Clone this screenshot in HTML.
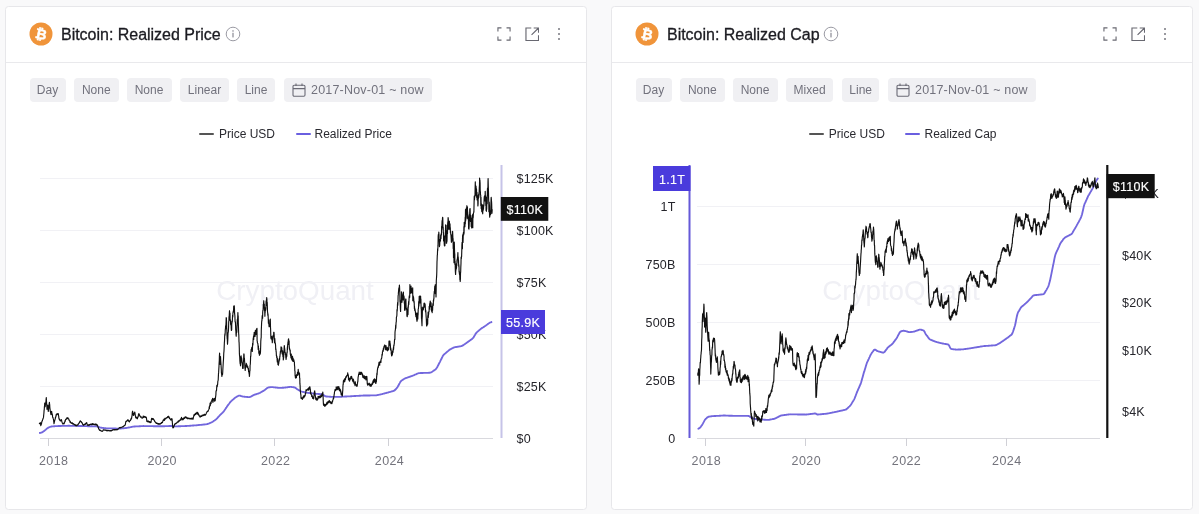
<!DOCTYPE html>
<html><head><meta charset="utf-8"><title>Bitcoin: Realized Price / Realized Cap</title>
<style>
html,body{margin:0;padding:0}
body{width:1199px;height:514px;overflow:hidden;background:#f9f9fa;font-family:"Liberation Sans", Arial, sans-serif;position:relative}
.card{position:absolute;top:6px;width:580px;height:502px;background:#fff;border:1px solid #e7e7ea;border-radius:3.5px;overflow:hidden}
.hdr{position:absolute;left:0;top:0;width:100%;height:55px;border-bottom:1px solid #e9e9ec}
.btc{position:absolute;left:23px;top:14.5px}
.title{position:absolute;left:55px;top:18px;font-size:16px;line-height:20px;color:#1b1b21;white-space:nowrap;-webkit-text-stroke:0.3px #1b1b21;letter-spacing:-0.02px}
.info{position:absolute;left:219px;top:19px}
.ic1{position:absolute;left:491px;top:20px}
.ic2{position:absolute;left:518.5px;top:19.5px}
.ic3{position:absolute;left:551px;top:20px}
.btns{position:absolute;left:0;top:71px;height:24px;width:100%}
.b{position:absolute;top:0;height:23px;padding-top:1px;line-height:23px;background:#f0f0f3;border-radius:4px;font-size:12px;color:#72727d;text-align:center;white-space:nowrap}
.b.date svg{position:absolute;left:8px;top:4.5px}
.b.date span{position:absolute;left:27px;top:1px;font-size:12.5px;letter-spacing:0.2px}
.leg{position:absolute;left:0;top:118px;width:100%;height:18px}
.leg span{position:absolute;top:0;font-size:12px;line-height:18px;color:#2a2a30;white-space:nowrap}
.leg .ln{position:absolute;top:8px;width:15px;height:2px;border-radius:1px}
.chart{position:absolute}
.xl{font-family:"Liberation Sans", Arial, sans-serif;font-size:12.5px;fill:#73737c;letter-spacing:0.4px}
.yl{font-family:"Liberation Sans", Arial, sans-serif;font-size:12.5px;fill:#25252b;letter-spacing:0.2px}
.lb{fill:#fff;stroke:#fff;stroke-width:0.15px;letter-spacing:0.3px}
</style></head><body>

<div class="card" style="left:5px">
  <div class="hdr">
    <svg class="btc" width="24" height="24" viewBox="0 0 24 24"><circle cx="12" cy="12" r="11.5" fill="#f0943a"/><text x="12.2" y="17" text-anchor="middle" font-family='"Liberation Sans", Arial, sans-serif' font-weight="bold" font-size="14" fill="#fff" stroke="#fff" stroke-width="0.45" transform="rotate(12 12 12)">&#x20BF;</text></svg>
    <span class="title">Bitcoin: Realized Price</span>
    <svg class="info" style="left:219px" width="16" height="16" viewBox="0 0 16 16"><circle cx="8" cy="8" r="6.8" fill="none" stroke="#9a9aa3" stroke-width="1"/><rect x="7.3" y="6.8" width="1.4" height="4.6" fill="#9a9aa3"/><rect x="7.3" y="4.2" width="1.4" height="1.5" fill="#9a9aa3"/></svg>
    <svg class="ic1" width="14" height="14" viewBox="0 0 15 15" fill="none" stroke="#686871" stroke-width="1.2"><path d="M1 4.8V1H4.8M10.2 1H14V4.8M14 10.2V14H10.2M4.8 14H1V10.2"/></svg>
    <svg class="ic2" width="14.5" height="14.5" viewBox="0 0 15 15" fill="none" stroke="#686871" stroke-width="1.2"><path d="M6.5 1H1V14H14V8.5M9 1H14V6M14 1L6.8 8.2"/></svg>
    <svg class="ic3" width="4" height="14" viewBox="0 0 4 14" fill="#77777f"><circle cx="2" cy="2" r="1"/><circle cx="2" cy="7" r="1"/><circle cx="2" cy="12" r="1"/></svg>
  </div>
  <div class="btns">
    <span class="b" style="left:23.5px;width:36px">Day</span>
    <span class="b" style="left:68px;width:44.5px">None</span>
    <span class="b" style="left:120.5px;width:45px">None</span>
    <span class="b" style="left:174px;width:49px">Linear</span>
    <span class="b" style="left:231px;width:38px">Line</span>
    <span class="b date" style="left:278px;width:148px"><svg width="14" height="14" viewBox="0 0 14 14" fill="none" stroke="#6a6a75" stroke-width="1.1"><rect x="1" y="2.2" width="12" height="11" rx="1.2"/><path d="M1 5.6H13M4 0.6V3M10 0.6V3"/></svg><span>2017-Nov-01 ~ now</span></span>
  </div>
  <div class="leg"><i class="ln" style="left:193px;background:#555"></i><span style="left:213px">Price USD</span><i class="ln" style="left:290px;background:#6a5fe0"></i><span style="left:308.5px">Realized Price</span></div>
  <svg class="chart" style="left:-6px;top:-7px" width="590" height="514" viewBox="0 0 590 514">
<text x="295" y="300.3" text-anchor="middle" font-family='"Liberation Sans", Arial, sans-serif' font-size="27.8" fill="#f0f0f5" letter-spacing="0">CryptoQuant</text>
<line x1="40" x2="493" y1="178.5" y2="178.5" stroke="#f1f1f5" stroke-width="1"/><line x1="40" x2="493" y1="230.5" y2="230.5" stroke="#f1f1f5" stroke-width="1"/><line x1="40" x2="493" y1="282.5" y2="282.5" stroke="#f1f1f5" stroke-width="1"/><line x1="40" x2="493" y1="334.5" y2="334.5" stroke="#f1f1f5" stroke-width="1"/><line x1="40" x2="493" y1="386.5" y2="386.5" stroke="#f1f1f5" stroke-width="1"/>
<line x1="40" x2="493" y1="438.5" y2="438.5" stroke="#d9d9de" stroke-width="1"/>
<line x1="48.5" x2="48.5" y1="438" y2="446" stroke="#d0d0d6" stroke-width="1"/><line x1="161.5" x2="161.5" y1="438" y2="446" stroke="#d0d0d6" stroke-width="1"/><line x1="274.5" x2="274.5" y1="438" y2="446" stroke="#d0d0d6" stroke-width="1"/><line x1="388.5" x2="388.5" y1="438" y2="446" stroke="#d0d0d6" stroke-width="1"/>
<text x="53.7" y="464.5" text-anchor="middle" class="xl">2018</text><text x="162.2" y="464.5" text-anchor="middle" class="xl">2020</text><text x="275.7" y="464.5" text-anchor="middle" class="xl">2022</text><text x="389.5" y="464.5" text-anchor="middle" class="xl">2024</text>
<line x1="501.5" x2="501.5" y1="165" y2="438" stroke="#c6c3e8" stroke-width="2"/>
<path d="M39.1,433.1 L39.6,433.0 L40.1,433.0 L40.5,432.8 L41.0,432.7 L41.5,432.6 L41.9,432.4 L42.4,432.1 L42.9,431.9 L43.3,431.5 L43.8,431.2 L44.3,430.9 L44.7,430.5 L45.2,430.1 L45.7,429.7 L46.1,429.3 L46.6,428.9 L47.0,428.5 L47.5,428.2 L48.0,427.9 L48.4,427.6 L48.9,427.4 L49.4,427.2 L49.8,427.0 L50.3,426.8 L50.8,426.7 L51.2,426.5 L51.7,426.5 L52.2,426.4 L52.6,426.4 L53.1,426.3 L53.6,426.3 L54.0,426.2 L54.5,426.2 L55.0,426.2 L55.4,426.1 L55.9,426.1 L56.4,426.1 L56.8,426.1 L57.3,426.1 L57.8,426.1 L58.2,426.0 L58.7,426.0 L59.2,426.0 L59.6,426.0 L60.1,426.0 L60.5,426.0 L61.0,426.0 L61.5,425.9 L61.9,425.9 L62.4,425.9 L62.9,425.9 L63.3,425.9 L63.8,425.9 L64.3,425.9 L64.7,425.8 L65.2,425.8 L65.7,425.8 L66.1,425.8 L66.6,425.8 L67.1,425.8 L67.5,425.8 L68.0,425.7 L68.5,425.7 L68.9,425.7 L69.4,425.7 L69.9,425.8 L70.3,425.8 L70.8,425.8 L71.3,425.8 L71.7,425.8 L72.2,425.8 L72.6,425.8 L73.1,425.8 L73.6,425.9 L74.0,425.9 L74.5,425.9 L75.0,425.9 L75.4,425.9 L75.9,425.9 L76.4,425.9 L76.8,425.9 L77.3,425.9 L77.8,426.0 L78.2,426.0 L78.7,426.0 L79.2,426.0 L79.6,426.0 L80.1,426.0 L80.6,426.0 L81.0,426.0 L81.5,426.0 L82.0,426.0 L82.4,426.1 L82.9,426.1 L83.4,426.1 L83.8,426.1 L84.3,426.1 L84.8,426.1 L85.2,426.1 L85.7,426.1 L86.1,426.1 L86.6,426.1 L87.1,426.1 L87.5,426.2 L88.0,426.2 L88.5,426.2 L88.9,426.2 L89.4,426.2 L89.9,426.2 L90.3,426.2 L90.8,426.2 L91.3,426.2 L91.7,426.2 L92.2,426.3 L92.7,426.3 L93.1,426.3 L93.6,426.3 L94.1,426.3 L94.5,426.3 L95.0,426.3 L95.5,426.3 L95.9,426.3 L96.4,426.3 L96.9,426.4 L97.3,426.5 L97.8,426.6 L98.2,426.8 L98.7,427.0 L99.2,427.1 L99.6,427.3 L100.1,427.5 L100.6,427.6 L101.0,427.7 L101.5,427.7 L102.0,427.8 L102.4,427.9 L102.9,427.9 L103.4,428.0 L103.8,428.1 L104.3,428.1 L104.8,428.2 L105.2,428.2 L105.7,428.2 L106.2,428.3 L106.6,428.3 L107.1,428.3 L107.6,428.3 L108.0,428.3 L108.5,428.3 L109.0,428.3 L109.4,428.4 L109.9,428.4 L110.3,428.4 L110.8,428.4 L111.3,428.4 L111.7,428.4 L112.2,428.4 L112.7,428.5 L113.1,428.5 L113.6,428.5 L114.1,428.5 L114.5,428.5 L115.0,428.5 L115.5,428.5 L115.9,428.5 L116.4,428.6 L116.9,428.6 L117.3,428.6 L117.8,428.6 L118.3,428.6 L118.7,428.6 L119.2,428.6 L119.7,428.6 L120.1,428.5 L120.6,428.5 L121.1,428.5 L121.5,428.4 L122.0,428.4 L122.5,428.3 L122.9,428.3 L123.4,428.3 L123.8,428.2 L124.3,428.2 L124.8,428.1 L125.2,428.1 L125.7,428.0 L126.2,428.0 L126.6,427.9 L127.1,427.8 L127.6,427.7 L128.0,427.6 L128.5,427.5 L129.0,427.5 L129.4,427.4 L129.9,427.3 L130.4,427.2 L130.8,427.1 L131.3,427.0 L131.8,426.9 L132.2,426.8 L132.7,426.7 L133.2,426.6 L133.6,426.6 L134.1,426.5 L134.6,426.5 L135.0,426.5 L135.5,426.4 L135.9,426.4 L136.4,426.4 L136.9,426.4 L137.3,426.3 L137.8,426.3 L138.3,426.3 L138.7,426.3 L139.2,426.2 L139.7,426.2 L140.1,426.2 L140.6,426.2 L141.1,426.1 L141.5,426.1 L142.0,426.1 L142.5,426.1 L142.9,426.1 L143.4,426.0 L143.9,426.1 L144.3,426.1 L144.8,426.1 L145.3,426.1 L145.7,426.1 L146.2,426.1 L146.7,426.1 L147.1,426.1 L147.6,426.1 L148.1,426.1 L148.5,426.1 L149.0,426.1 L149.4,426.1 L149.9,426.1 L150.4,426.1 L150.8,426.1 L151.3,426.1 L151.8,426.1 L152.2,426.1 L152.7,426.1 L153.2,426.2 L153.6,426.2 L154.1,426.2 L154.6,426.2 L155.0,426.2 L155.5,426.2 L156.0,426.2 L156.4,426.2 L156.9,426.2 L157.4,426.2 L157.8,426.2 L158.3,426.2 L158.8,426.2 L159.2,426.2 L159.7,426.2 L160.2,426.2 L160.6,426.2 L161.1,426.2 L161.5,426.2 L162.0,426.2 L162.5,426.2 L162.9,426.2 L163.4,426.2 L163.9,426.2 L164.3,426.2 L164.8,426.2 L165.3,426.1 L165.7,426.1 L166.2,426.1 L166.7,426.1 L167.1,426.1 L167.6,426.1 L168.0,426.1 L168.5,426.1 L169.0,426.0 L169.4,426.0 L169.9,426.0 L170.4,426.0 L170.8,426.0 L171.3,426.0 L171.8,426.0 L172.2,426.0 L172.7,426.0 L173.2,426.1 L173.6,426.2 L174.1,426.3 L174.5,426.3 L175.0,426.3 L175.5,426.3 L175.9,426.3 L176.4,426.3 L176.9,426.3 L177.3,426.3 L177.8,426.3 L178.3,426.2 L178.7,426.2 L179.2,426.2 L179.7,426.2 L180.1,426.2 L180.6,426.2 L181.0,426.2 L181.5,426.1 L182.0,426.1 L182.4,426.1 L182.9,426.1 L183.4,426.1 L183.8,426.1 L184.3,426.1 L184.8,426.1 L185.2,426.0 L185.7,426.0 L186.2,426.0 L186.6,426.0 L187.1,425.9 L187.5,425.9 L188.0,425.9 L188.5,425.8 L188.9,425.8 L189.4,425.8 L189.9,425.7 L190.3,425.7 L190.8,425.7 L191.3,425.6 L191.7,425.6 L192.2,425.6 L192.7,425.5 L193.1,425.5 L193.6,425.5 L194.0,425.4 L194.5,425.4 L195.0,425.4 L195.4,425.3 L195.9,425.3 L196.4,425.3 L196.8,425.2 L197.3,425.2 L197.8,425.1 L198.2,425.1 L198.7,425.0 L199.1,425.0 L199.6,424.9 L200.1,424.9 L200.5,424.9 L201.0,424.8 L201.5,424.8 L201.9,424.7 L202.4,424.7 L202.9,424.6 L203.3,424.6 L203.8,424.5 L204.3,424.5 L204.7,424.4 L205.2,424.4 L205.6,424.3 L206.1,424.3 L206.6,424.2 L207.0,424.1 L207.5,424.0 L208.0,423.9 L208.4,423.7 L208.9,423.5 L209.4,423.3 L209.8,423.1 L210.3,422.9 L210.8,422.7 L211.2,422.5 L211.7,422.3 L212.1,422.0 L212.6,421.8 L213.1,421.5 L213.5,421.1 L214.0,420.8 L214.5,420.5 L214.9,420.2 L215.4,419.8 L215.9,419.5 L216.3,419.1 L216.8,418.6 L217.3,418.2 L217.7,417.7 L218.2,417.2 L218.6,416.6 L219.1,416.1 L219.6,415.5 L220.0,415.1 L220.5,414.6 L221.0,414.2 L221.4,413.7 L221.9,413.3 L222.4,412.9 L222.8,412.4 L223.3,411.9 L223.8,411.3 L224.2,410.7 L224.7,410.0 L225.2,409.3 L225.6,408.6 L226.1,407.9 L226.6,407.2 L227.0,406.5 L227.5,405.8 L228.0,405.2 L228.4,404.6 L228.9,404.0 L229.4,403.3 L229.8,402.7 L230.3,402.1 L230.7,401.6 L231.2,401.1 L231.7,400.7 L232.1,400.3 L232.6,399.9 L233.1,399.5 L233.5,399.1 L234.0,398.7 L234.5,398.3 L234.9,397.9 L235.4,397.5 L235.9,397.2 L236.3,396.9 L236.8,396.7 L237.3,396.5 L237.7,396.2 L238.2,396.0 L238.7,395.7 L239.1,395.6 L239.6,395.6 L240.1,395.7 L240.5,395.9 L241.0,396.0 L241.5,396.2 L241.9,396.3 L242.4,396.4 L242.8,396.5 L243.3,396.6 L243.8,396.6 L244.2,396.7 L244.7,396.7 L245.2,396.8 L245.6,396.8 L246.1,396.9 L246.6,396.9 L247.0,397.0 L247.5,397.0 L248.0,397.1 L248.4,397.1 L248.9,397.1 L249.4,397.1 L249.8,397.0 L250.3,396.8 L250.8,396.6 L251.2,396.4 L251.7,396.1 L252.2,395.9 L252.6,395.6 L253.1,395.4 L253.6,395.2 L254.0,394.9 L254.5,394.7 L255.0,394.6 L255.4,394.4 L255.9,394.3 L256.3,394.1 L256.8,394.0 L257.3,393.8 L257.7,393.7 L258.2,393.6 L258.7,393.4 L259.1,393.2 L259.6,393.0 L260.1,392.8 L260.5,392.5 L261.0,392.2 L261.5,392.0 L261.9,391.7 L262.4,391.4 L262.9,391.2 L263.3,390.9 L263.8,390.6 L264.3,390.3 L264.7,390.0 L265.2,389.6 L265.7,389.3 L266.1,388.9 L266.6,388.5 L267.1,388.1 L267.5,387.8 L268.0,387.6 L268.4,387.4 L268.9,387.3 L269.4,387.3 L269.8,387.2 L270.3,387.2 L270.8,387.1 L271.2,387.1 L271.7,387.1 L272.2,387.1 L272.6,387.1 L273.1,387.2 L273.6,387.3 L274.0,387.3 L274.5,387.4 L275.0,387.4 L275.4,387.5 L275.9,387.5 L276.4,387.6 L276.8,387.6 L277.3,387.7 L277.8,387.7 L278.2,387.8 L278.7,387.8 L279.2,387.8 L279.6,387.8 L280.1,387.8 L280.6,387.8 L281.0,387.8 L281.5,387.8 L281.9,387.8 L282.4,387.7 L282.9,387.7 L283.3,387.7 L283.8,387.7 L284.3,387.6 L284.7,387.6 L285.2,387.5 L285.7,387.5 L286.1,387.4 L286.6,387.4 L287.1,387.3 L287.5,387.2 L288.0,387.2 L288.5,387.1 L288.9,387.0 L289.4,387.0 L289.9,386.9 L290.3,386.9 L290.8,386.9 L291.3,386.9 L291.7,387.0 L292.2,387.1 L292.7,387.1 L293.1,387.2 L293.6,387.2 L294.0,387.3 L294.5,387.4 L295.0,387.6 L295.4,387.8 L295.9,388.2 L296.4,388.6 L296.8,388.9 L297.3,389.3 L297.8,389.5 L298.2,389.8 L298.7,390.1 L299.2,390.3 L299.6,390.6 L300.1,390.8 L300.6,391.1 L301.0,391.3 L301.5,391.5 L302.0,391.7 L302.4,391.8 L302.9,391.9 L303.4,392.0 L303.8,392.1 L304.3,392.2 L304.8,392.2 L305.2,392.3 L305.7,392.4 L306.2,392.5 L306.6,392.6 L307.1,392.7 L307.5,392.8 L308.0,392.8 L308.5,392.9 L308.9,393.0 L309.4,393.0 L309.9,393.1 L310.3,393.1 L310.8,393.2 L311.3,393.3 L311.7,393.3 L312.2,393.4 L312.7,393.4 L313.1,393.5 L313.6,393.5 L314.1,393.6 L314.5,393.6 L315.0,393.7 L315.5,393.7 L315.9,393.8 L316.4,393.8 L316.9,393.8 L317.3,393.9 L317.8,393.9 L318.3,394.0 L318.7,394.0 L319.2,394.0 L319.6,394.1 L320.1,394.1 L320.6,394.1 L321.0,394.2 L321.5,394.2 L322.0,394.2 L322.4,394.3 L322.9,394.5 L323.4,394.8 L323.8,395.2 L324.3,395.6 L324.8,395.9 L325.2,396.2 L325.7,396.4 L326.2,396.5 L326.6,396.5 L327.1,396.5 L327.6,396.6 L328.0,396.6 L328.5,396.6 L329.0,396.6 L329.4,396.7 L329.9,396.7 L330.4,396.7 L330.8,396.8 L331.3,396.8 L331.8,396.8 L332.2,396.8 L332.7,396.8 L333.1,396.8 L333.6,396.8 L334.1,396.8 L334.5,396.8 L335.0,396.8 L335.5,396.8 L335.9,396.8 L336.4,396.8 L336.9,396.8 L337.3,396.8 L337.8,396.8 L338.3,396.8 L338.7,396.8 L339.2,396.8 L339.7,396.8 L340.1,396.8 L340.6,396.7 L341.1,396.7 L341.5,396.7 L342.0,396.7 L342.5,396.6 L342.9,396.6 L343.4,396.6 L343.9,396.6 L344.3,396.6 L344.8,396.5 L345.2,396.5 L345.7,396.5 L346.2,396.5 L346.6,396.5 L347.1,396.4 L347.6,396.4 L348.0,396.4 L348.5,396.4 L349.0,396.3 L349.4,396.3 L349.9,396.3 L350.4,396.3 L350.8,396.2 L351.3,396.2 L351.8,396.2 L352.2,396.1 L352.7,396.1 L353.2,396.1 L353.6,396.1 L354.1,396.0 L354.6,396.0 L355.0,396.0 L355.5,396.0 L356.0,395.9 L356.4,395.9 L356.9,395.9 L357.3,395.8 L357.8,395.8 L358.3,395.8 L358.7,395.8 L359.2,395.7 L359.7,395.7 L360.1,395.7 L360.6,395.7 L361.1,395.6 L361.5,395.6 L362.0,395.6 L362.5,395.6 L362.9,395.6 L363.4,395.5 L363.9,395.5 L364.3,395.5 L364.8,395.5 L365.3,395.5 L365.7,395.5 L366.2,395.5 L366.7,395.5 L367.1,395.5 L367.6,395.5 L368.1,395.5 L368.5,395.5 L369.0,395.5 L369.5,395.5 L369.9,395.5 L370.4,395.4 L370.8,395.4 L371.3,395.4 L371.8,395.4 L372.2,395.4 L372.7,395.4 L373.2,395.4 L373.6,395.4 L374.1,395.4 L374.6,395.4 L375.0,395.4 L375.5,395.4 L376.0,395.3 L376.4,395.3 L376.9,395.2 L377.4,395.1 L377.8,395.0 L378.3,394.9 L378.8,394.8 L379.2,394.7 L379.7,394.6 L380.2,394.5 L380.6,394.4 L381.1,394.3 L381.6,394.2 L382.0,394.1 L382.5,394.0 L382.9,393.8 L383.4,393.7 L383.9,393.6 L384.3,393.5 L384.8,393.4 L385.3,393.2 L385.7,393.1 L386.2,393.0 L386.7,392.9 L387.1,392.7 L387.6,392.6 L388.1,392.5 L388.5,392.4 L389.0,392.2 L389.5,392.1 L389.9,392.0 L390.4,391.8 L390.9,391.7 L391.3,391.5 L391.8,391.4 L392.2,391.3 L392.7,391.1 L393.2,391.0 L393.6,390.9 L394.1,390.7 L394.6,390.4 L395.0,390.0 L395.5,389.5 L396.0,389.0 L396.4,388.5 L396.9,387.9 L397.4,387.3 L397.8,386.6 L398.3,385.8 L398.7,385.0 L399.2,384.0 L399.7,383.1 L400.1,382.3 L400.6,381.6 L401.1,381.0 L401.5,380.6 L402.0,380.3 L402.5,380.0 L402.9,379.7 L403.4,379.4 L403.9,379.0 L404.3,378.8 L404.8,378.5 L405.2,378.3 L405.7,378.1 L406.2,378.0 L406.6,377.8 L407.1,377.7 L407.6,377.5 L408.0,377.4 L408.5,377.2 L409.0,377.0 L409.4,376.9 L409.9,376.7 L410.4,376.6 L410.8,376.4 L411.3,376.2 L411.7,376.1 L412.2,375.9 L412.7,375.7 L413.1,375.5 L413.6,375.3 L414.1,375.1 L414.5,374.9 L415.0,374.7 L415.5,374.5 L415.9,374.3 L416.4,374.1 L416.8,373.9 L417.3,373.7 L417.8,373.5 L418.2,373.3 L418.7,373.2 L419.2,373.1 L419.6,373.1 L420.1,373.1 L420.6,373.0 L421.0,373.0 L421.5,373.0 L422.0,373.0 L422.4,373.0 L422.9,373.0 L423.3,372.9 L423.8,372.9 L424.3,372.9 L424.7,372.9 L425.2,372.9 L425.7,372.9 L426.1,372.8 L426.6,372.8 L427.1,372.8 L427.5,372.8 L428.0,372.8 L428.5,372.8 L428.9,372.7 L429.4,372.7 L429.8,372.7 L430.3,372.6 L430.8,372.5 L431.2,372.3 L431.7,372.0 L432.2,371.7 L432.6,371.4 L433.1,371.0 L433.6,370.7 L434.0,370.4 L434.5,370.1 L435.0,369.8 L435.4,369.5 L435.9,369.0 L436.3,368.5 L436.8,367.8 L437.3,367.0 L437.7,366.1 L438.2,365.2 L438.7,364.3 L439.1,363.4 L439.6,362.5 L440.1,361.6 L440.5,360.7 L441.0,359.7 L441.5,358.8 L441.9,357.8 L442.4,356.9 L442.8,356.0 L443.3,355.3 L443.8,354.7 L444.2,354.3 L444.7,353.9 L445.2,353.5 L445.6,353.1 L446.1,352.7 L446.6,352.3 L447.0,351.9 L447.5,351.5 L448.0,351.1 L448.4,350.7 L448.9,350.3 L449.4,349.9 L449.8,349.6 L450.3,349.3 L450.8,349.1 L451.2,348.8 L451.7,348.6 L452.1,348.3 L452.6,348.1 L453.1,347.9 L453.5,347.6 L454.0,347.5 L454.5,347.3 L454.9,347.2 L455.4,347.1 L455.9,347.0 L456.3,347.0 L456.8,346.9 L457.3,346.8 L457.7,346.7 L458.2,346.7 L458.7,346.6 L459.1,346.5 L459.6,346.4 L460.1,346.4 L460.5,346.3 L461.0,346.2 L461.5,346.1 L461.9,345.9 L462.4,345.7 L462.9,345.4 L463.3,345.1 L463.8,344.8 L464.2,344.5 L464.7,344.2 L465.2,343.8 L465.6,343.5 L466.1,343.2 L466.6,342.9 L467.0,342.5 L467.5,342.2 L468.0,341.9 L468.4,341.5 L468.9,341.2 L469.4,340.9 L469.8,340.5 L470.3,340.2 L470.8,339.9 L471.2,339.5 L471.7,339.2 L472.2,338.8 L472.6,338.4 L473.1,337.9 L473.6,337.3 L474.0,336.5 L474.5,335.7 L475.0,334.9 L475.4,334.1 L475.9,333.4 L476.4,332.8 L476.8,332.3 L477.3,331.9 L477.7,331.5 L478.2,331.1 L478.7,330.7 L479.1,330.3 L479.6,329.9 L480.1,329.5 L480.5,329.1 L481.0,328.7 L481.5,328.4 L481.9,328.1 L482.4,327.8 L482.9,327.5 L483.3,327.2 L483.8,326.9 L484.3,326.6 L484.7,326.3 L485.2,326.0 L485.7,325.7 L486.1,325.3 L486.6,325.0 L487.1,324.6 L487.5,324.3 L488.0,323.9 L488.5,323.6 L488.9,323.3 L489.4,323.0 L489.8,322.7 L490.3,322.5 L490.8,322.3 L491.2,322.1 L491.7,322.0 L492.2,321.9" fill="none" stroke="#7267dd" stroke-width="1.85" stroke-linejoin="round"/>
<path d="M39.1,424.0 L39.3,423.8 L39.4,423.4 L39.6,423.4 L39.8,423.2 L39.9,423.2 L40.1,422.8 L40.2,422.5 L40.4,423.1 L40.5,424.1 L40.7,424.7 L40.8,425.6 L41.0,425.1 L41.2,424.5 L41.3,424.0 L41.5,423.9 L41.6,422.7 L41.8,422.1 L41.9,421.5 L42.1,420.9 L42.2,421.1 L42.4,420.7 L42.5,420.1 L42.7,419.6 L42.9,419.0 L43.0,418.7 L43.2,418.1 L43.3,418.1 L43.5,417.4 L43.6,415.9 L43.8,414.3 L43.9,413.2 L44.1,410.4 L44.3,409.1 L44.4,406.8 L44.6,405.6 L44.7,403.1 L44.9,404.8 L45.0,405.8 L45.2,406.8 L45.3,405.7 L45.5,404.1 L45.7,403.0 L45.8,402.1 L46.0,401.1 L46.1,399.4 L46.3,397.6 L46.4,399.5 L46.6,403.3 L46.7,405.0 L46.9,407.0 L47.0,409.3 L47.2,409.2 L47.4,407.7 L47.5,406.2 L47.7,407.1 L47.8,405.1 L48.0,407.5 L48.1,409.5 L48.3,411.4 L48.4,410.6 L48.6,408.8 L48.8,407.9 L48.9,407.4 L49.1,404.8 L49.2,403.5 L49.4,402.4 L49.5,403.6 L49.7,404.9 L49.8,407.1 L50.0,408.7 L50.2,410.1 L50.3,411.5 L50.5,411.5 L50.6,412.8 L50.8,413.5 L50.9,414.5 L51.1,414.7 L51.2,414.0 L51.4,412.8 L51.5,411.4 L51.7,411.5 L51.9,413.7 L52.0,414.2 L52.2,414.1 L52.3,414.3 L52.5,415.3 L52.6,416.9 L52.8,417.7 L52.9,417.3 L53.1,418.2 L53.3,418.9 L53.4,419.1 L53.6,420.0 L53.7,421.2 L53.9,422.6 L54.0,423.6 L54.2,422.9 L54.3,422.2 L54.5,421.2 L54.7,420.7 L54.8,420.1 L55.0,419.4 L55.1,418.9 L55.3,419.0 L55.4,417.5 L55.6,417.1 L55.7,416.6 L55.9,416.9 L56.0,415.8 L56.2,414.6 L56.4,414.3 L56.5,415.0 L56.7,414.3 L56.8,413.8 L57.0,414.7 L57.1,413.5 L57.3,414.0 L57.4,414.2 L57.6,414.0 L57.8,413.9 L57.9,414.1 L58.1,413.6 L58.2,414.4 L58.4,414.1 L58.5,415.5 L58.7,416.1 L58.8,417.6 L59.0,418.7 L59.2,419.2 L59.3,418.9 L59.5,419.0 L59.6,419.8 L59.8,420.4 L59.9,420.3 L60.1,420.5 L60.2,420.8 L60.4,420.9 L60.5,420.3 L60.7,420.8 L60.9,419.8 L61.0,420.4 L61.2,420.0 L61.3,419.5 L61.5,419.9 L61.6,420.4 L61.8,421.0 L61.9,421.7 L62.1,422.3 L62.3,422.8 L62.4,423.2 L62.6,423.9 L62.7,423.9 L62.9,423.7 L63.0,423.7 L63.2,423.8 L63.3,423.6 L63.5,423.6 L63.6,423.2 L63.8,423.6 L64.0,423.8 L64.1,423.6 L64.3,423.3 L64.4,422.9 L64.6,422.2 L64.7,422.1 L64.9,421.5 L65.0,420.6 L65.2,421.4 L65.4,420.5 L65.5,419.7 L65.7,419.5 L65.8,419.3 L66.0,419.2 L66.1,419.3 L66.3,418.8 L66.4,418.8 L66.6,418.9 L66.8,417.8 L66.9,418.4 L67.1,418.5 L67.2,418.2 L67.4,418.1 L67.5,417.9 L67.7,418.7 L67.8,417.6 L68.0,418.1 L68.1,417.9 L68.3,418.9 L68.5,418.8 L68.6,418.8 L68.8,419.1 L68.9,419.2 L69.1,420.4 L69.2,420.3 L69.4,420.5 L69.5,420.5 L69.7,420.9 L69.9,420.9 L70.0,422.1 L70.2,421.3 L70.3,422.2 L70.5,421.8 L70.6,422.6 L70.8,422.4 L70.9,422.3 L71.1,422.9 L71.3,423.0 L71.4,423.2 L71.6,423.1 L71.7,423.3 L71.9,423.4 L72.0,423.0 L72.2,423.2 L72.3,423.6 L72.5,422.9 L72.6,423.9 L72.8,423.4 L73.0,423.8 L73.1,423.7 L73.3,423.6 L73.4,423.9 L73.6,423.9 L73.7,423.9 L73.9,424.5 L74.0,424.6 L74.2,424.3 L74.4,424.7 L74.5,424.8 L74.7,425.0 L74.8,424.5 L75.0,424.8 L75.1,424.7 L75.3,425.3 L75.4,425.2 L75.6,425.6 L75.8,425.3 L75.9,425.2 L76.1,425.8 L76.2,425.7 L76.4,425.3 L76.5,425.3 L76.7,425.5 L76.8,425.8 L77.0,425.0 L77.1,425.2 L77.3,425.3 L77.5,425.0 L77.6,424.9 L77.8,424.5 L77.9,425.0 L78.1,424.7 L78.2,424.2 L78.4,423.8 L78.5,423.6 L78.7,423.7 L78.9,423.6 L79.0,422.9 L79.2,422.8 L79.3,422.5 L79.5,421.9 L79.6,422.0 L79.8,422.3 L79.9,421.5 L80.1,421.6 L80.3,420.7 L80.4,420.7 L80.6,421.0 L80.7,421.5 L80.9,421.5 L81.0,421.4 L81.2,421.8 L81.3,421.7 L81.5,422.2 L81.6,422.5 L81.8,422.4 L82.0,422.6 L82.1,422.8 L82.3,423.6 L82.4,423.5 L82.6,424.4 L82.7,424.4 L82.9,424.9 L83.0,424.4 L83.2,425.1 L83.4,425.1 L83.5,425.3 L83.7,425.2 L83.8,425.1 L84.0,425.1 L84.1,424.8 L84.3,424.3 L84.4,424.6 L84.6,424.4 L84.8,424.1 L84.9,424.3 L85.1,424.4 L85.2,424.1 L85.4,423.6 L85.5,424.2 L85.7,423.8 L85.8,423.3 L86.0,423.2 L86.1,423.2 L86.3,422.9 L86.5,422.9 L86.6,423.1 L86.8,422.7 L86.9,423.7 L87.1,424.1 L87.2,424.3 L87.4,425.1 L87.5,425.2 L87.7,425.2 L87.9,425.2 L88.0,425.3 L88.2,425.0 L88.3,425.2 L88.5,424.8 L88.6,425.3 L88.8,424.7 L88.9,424.9 L89.1,425.1 L89.2,424.5 L89.4,424.7 L89.6,425.1 L89.7,424.8 L89.9,424.5 L90.0,424.6 L90.2,424.3 L90.3,424.2 L90.5,424.2 L90.6,424.3 L90.8,424.0 L91.0,424.3 L91.1,424.1 L91.3,424.2 L91.4,424.7 L91.6,424.1 L91.7,424.0 L91.9,424.3 L92.0,424.4 L92.2,423.8 L92.4,424.7 L92.5,424.2 L92.7,423.7 L92.8,424.5 L93.0,424.1 L93.1,424.3 L93.3,423.8 L93.4,424.3 L93.6,424.2 L93.7,424.1 L93.9,424.6 L94.1,424.4 L94.2,424.3 L94.4,424.2 L94.5,424.4 L94.7,424.5 L94.8,424.7 L95.0,424.5 L95.1,424.3 L95.3,424.5 L95.5,424.7 L95.6,424.7 L95.8,423.9 L95.9,424.3 L96.1,424.4 L96.2,425.2 L96.4,424.5 L96.5,424.5 L96.7,424.3 L96.9,424.6 L97.0,424.7 L97.2,424.7 L97.3,425.0 L97.5,425.8 L97.6,425.6 L97.8,426.1 L97.9,426.6 L98.1,427.3 L98.2,427.3 L98.4,427.7 L98.6,428.7 L98.7,428.8 L98.9,429.2 L99.0,429.3 L99.2,429.6 L99.3,429.9 L99.5,430.1 L99.6,430.3 L99.8,429.9 L100.0,430.2 L100.1,430.5 L100.3,430.6 L100.4,430.3 L100.6,430.4 L100.7,430.4 L100.9,430.6 L101.0,430.9 L101.2,430.8 L101.4,431.1 L101.5,431.0 L101.7,431.0 L101.8,431.0 L102.0,431.2 L102.1,431.2 L102.3,431.2 L102.4,431.2 L102.6,431.3 L102.7,431.0 L102.9,430.7 L103.1,430.4 L103.2,429.9 L103.4,429.7 L103.5,429.7 L103.7,429.9 L103.8,429.9 L104.0,429.9 L104.1,429.9 L104.3,429.9 L104.5,430.0 L104.6,430.0 L104.8,430.1 L104.9,430.3 L105.1,430.2 L105.2,430.2 L105.4,430.1 L105.5,430.2 L105.7,430.3 L105.9,430.2 L106.0,430.5 L106.2,430.6 L106.3,430.4 L106.5,430.5 L106.6,430.4 L106.8,430.3 L106.9,430.6 L107.1,430.8 L107.2,430.6 L107.4,430.3 L107.6,430.6 L107.7,430.7 L107.9,430.7 L108.0,430.5 L108.2,430.5 L108.3,430.6 L108.5,430.4 L108.6,430.6 L108.8,430.7 L109.0,430.6 L109.1,430.5 L109.3,430.6 L109.4,430.6 L109.6,430.9 L109.7,430.8 L109.9,430.7 L110.0,430.9 L110.2,430.7 L110.3,430.8 L110.5,430.8 L110.7,430.9 L110.8,430.6 L111.0,430.9 L111.1,430.7 L111.3,430.8 L111.4,430.7 L111.6,430.3 L111.7,430.6 L111.9,430.3 L112.1,430.2 L112.2,430.2 L112.4,430.3 L112.5,430.0 L112.7,429.9 L112.8,429.7 L113.0,429.8 L113.1,429.7 L113.3,429.8 L113.5,429.6 L113.6,429.7 L113.8,429.7 L113.9,429.7 L114.1,429.8 L114.2,429.6 L114.4,429.9 L114.5,429.8 L114.7,429.7 L114.8,429.9 L115.0,429.7 L115.2,430.0 L115.3,429.8 L115.5,429.6 L115.6,429.6 L115.8,429.7 L115.9,429.7 L116.1,429.8 L116.2,429.4 L116.4,429.5 L116.6,429.5 L116.7,429.7 L116.9,429.6 L117.0,429.8 L117.2,429.5 L117.3,429.6 L117.5,429.3 L117.6,429.6 L117.8,429.2 L118.0,429.0 L118.1,429.2 L118.3,429.1 L118.4,428.8 L118.6,428.6 L118.7,428.6 L118.9,428.2 L119.0,428.1 L119.2,427.8 L119.3,427.8 L119.5,427.6 L119.7,427.5 L119.8,427.5 L120.0,427.9 L120.1,427.7 L120.3,427.7 L120.4,427.7 L120.6,427.5 L120.7,427.4 L120.9,427.3 L121.1,427.6 L121.2,427.5 L121.4,427.2 L121.5,427.2 L121.7,427.2 L121.8,427.1 L122.0,427.2 L122.1,427.0 L122.3,426.7 L122.5,426.7 L122.6,426.7 L122.8,426.7 L122.9,426.5 L123.1,426.9 L123.2,426.5 L123.4,426.2 L123.5,426.4 L123.7,425.9 L123.8,425.8 L124.0,426.1 L124.2,425.7 L124.3,425.6 L124.5,425.4 L124.6,425.2 L124.8,425.2 L124.9,425.3 L125.1,425.0 L125.2,424.9 L125.4,424.1 L125.6,423.0 L125.7,422.2 L125.9,421.4 L126.0,421.5 L126.2,421.6 L126.3,421.2 L126.5,421.3 L126.6,421.3 L126.8,420.9 L127.0,421.0 L127.1,420.7 L127.3,420.5 L127.4,420.7 L127.6,419.8 L127.7,420.5 L127.9,420.0 L128.0,420.2 L128.2,419.9 L128.3,420.1 L128.5,421.1 L128.7,421.0 L128.8,421.0 L129.0,421.2 L129.1,421.0 L129.3,422.0 L129.4,421.7 L129.6,421.2 L129.7,421.1 L129.9,420.8 L130.1,420.7 L130.2,420.6 L130.4,420.2 L130.5,420.4 L130.7,419.5 L130.8,419.9 L131.0,419.2 L131.1,418.4 L131.3,418.9 L131.5,418.5 L131.6,418.2 L131.8,416.8 L131.9,416.1 L132.1,415.3 L132.2,413.7 L132.4,412.2 L132.5,411.2 L132.7,411.6 L132.8,413.0 L133.0,412.7 L133.2,413.5 L133.3,414.9 L133.5,415.5 L133.6,415.0 L133.8,414.9 L133.9,413.7 L134.1,414.1 L134.2,413.1 L134.4,413.1 L134.6,412.8 L134.7,412.0 L134.9,412.6 L135.0,413.3 L135.2,414.7 L135.3,415.8 L135.5,416.0 L135.6,417.1 L135.8,417.8 L135.9,417.8 L136.1,417.4 L136.3,417.5 L136.4,418.2 L136.6,417.2 L136.7,418.1 L136.9,417.8 L137.0,418.3 L137.2,418.2 L137.3,418.8 L137.5,418.2 L137.7,417.1 L137.8,416.8 L138.0,417.2 L138.1,416.8 L138.3,416.3 L138.4,414.7 L138.6,414.8 L138.7,414.1 L138.9,413.5 L139.1,414.0 L139.2,414.2 L139.4,415.0 L139.5,414.9 L139.7,415.8 L139.8,415.6 L140.0,415.8 L140.1,416.1 L140.3,416.6 L140.4,416.8 L140.6,417.1 L140.8,416.9 L140.9,417.2 L141.1,416.6 L141.2,417.0 L141.4,417.5 L141.5,417.7 L141.7,417.9 L141.8,418.1 L142.0,418.0 L142.2,417.9 L142.3,418.0 L142.5,418.2 L142.6,417.8 L142.8,417.1 L142.9,417.8 L143.1,417.3 L143.2,416.1 L143.4,417.5 L143.6,416.8 L143.7,416.4 L143.9,416.4 L144.0,416.4 L144.2,416.4 L144.3,416.7 L144.5,416.5 L144.6,416.7 L144.8,416.5 L144.9,417.5 L145.1,417.2 L145.3,417.0 L145.4,417.4 L145.6,417.5 L145.7,416.9 L145.9,417.5 L146.0,417.1 L146.2,417.1 L146.3,417.4 L146.5,418.6 L146.7,419.8 L146.8,421.2 L147.0,421.2 L147.1,421.6 L147.3,421.3 L147.4,421.2 L147.6,421.5 L147.7,421.5 L147.9,421.3 L148.1,421.8 L148.2,421.4 L148.4,421.1 L148.5,421.8 L148.7,421.7 L148.8,421.8 L149.0,421.4 L149.1,421.8 L149.3,421.7 L149.4,422.1 L149.6,422.0 L149.8,422.0 L149.9,422.6 L150.1,421.7 L150.2,421.9 L150.4,422.7 L150.5,422.1 L150.7,422.3 L150.8,422.2 L151.0,422.4 L151.2,421.1 L151.3,420.4 L151.5,418.7 L151.6,418.8 L151.8,418.3 L151.9,419.0 L152.1,419.2 L152.2,419.4 L152.4,419.4 L152.6,418.9 L152.7,418.6 L152.9,419.0 L153.0,419.1 L153.2,418.5 L153.3,419.5 L153.5,419.6 L153.6,419.3 L153.8,419.5 L153.9,419.6 L154.1,420.3 L154.3,420.7 L154.4,420.5 L154.6,420.8 L154.7,421.5 L154.9,421.4 L155.0,421.7 L155.2,421.7 L155.3,422.1 L155.5,422.3 L155.7,422.6 L155.8,422.5 L156.0,422.6 L156.1,423.2 L156.3,423.4 L156.4,423.1 L156.6,423.5 L156.7,423.4 L156.9,423.2 L157.1,423.1 L157.2,423.6 L157.4,423.5 L157.5,423.5 L157.7,424.0 L157.8,423.6 L158.0,423.8 L158.1,423.6 L158.3,424.0 L158.4,424.3 L158.6,423.8 L158.8,423.8 L158.9,424.0 L159.1,423.7 L159.2,424.0 L159.4,424.1 L159.5,423.9 L159.7,424.1 L159.8,424.4 L160.0,424.1 L160.2,423.8 L160.3,423.5 L160.5,423.7 L160.6,423.5 L160.8,423.7 L160.9,423.4 L161.1,422.9 L161.2,423.4 L161.4,422.6 L161.5,423.3 L161.7,423.0 L161.9,422.8 L162.0,422.5 L162.2,422.1 L162.3,422.5 L162.5,422.5 L162.6,421.5 L162.8,421.2 L162.9,421.0 L163.1,420.2 L163.3,420.7 L163.4,420.4 L163.6,419.9 L163.7,419.8 L163.9,419.7 L164.0,419.1 L164.2,419.9 L164.3,419.5 L164.5,420.4 L164.6,418.9 L164.8,419.2 L165.0,418.7 L165.1,418.2 L165.3,418.8 L165.4,418.8 L165.6,418.8 L165.7,418.8 L165.9,418.6 L166.0,418.1 L166.2,418.2 L166.3,418.1 L166.5,418.0 L166.7,417.6 L166.8,417.6 L167.0,417.7 L167.1,417.3 L167.3,417.5 L167.4,417.7 L167.6,416.7 L167.7,417.0 L167.9,417.4 L168.0,416.5 L168.2,416.7 L168.4,417.2 L168.5,416.6 L168.7,416.2 L168.8,416.9 L169.0,417.0 L169.1,417.4 L169.3,417.8 L169.4,418.5 L169.6,417.9 L169.8,418.4 L169.9,418.7 L170.1,418.7 L170.2,419.0 L170.4,419.1 L170.5,419.6 L170.7,419.7 L170.8,419.6 L171.0,420.2 L171.1,419.6 L171.3,419.2 L171.5,418.9 L171.6,419.4 L171.8,419.3 L171.9,418.6 L172.1,419.1 L172.2,421.4 L172.4,423.0 L172.5,424.6 L172.7,426.5 L172.8,427.8 L173.0,427.5 L173.2,427.8 L173.3,427.6 L173.5,427.6 L173.6,427.2 L173.8,426.8 L173.9,426.2 L174.1,425.5 L174.2,425.7 L174.4,425.2 L174.5,424.5 L174.7,424.1 L174.9,424.2 L175.0,423.8 L175.2,423.7 L175.3,423.8 L175.5,423.5 L175.6,423.9 L175.8,423.3 L175.9,423.7 L176.1,423.4 L176.2,423.3 L176.4,423.2 L176.6,422.8 L176.7,422.9 L176.9,422.8 L177.0,422.8 L177.2,422.4 L177.3,422.0 L177.5,422.3 L177.6,422.1 L177.8,421.7 L178.0,421.9 L178.1,422.1 L178.3,421.0 L178.4,420.9 L178.6,421.9 L178.7,421.3 L178.9,421.0 L179.0,420.7 L179.2,420.7 L179.3,420.8 L179.5,420.9 L179.7,420.4 L179.8,420.0 L180.0,420.5 L180.1,420.3 L180.3,419.9 L180.4,419.7 L180.6,420.0 L180.7,419.2 L180.9,418.9 L181.0,418.3 L181.2,418.3 L181.4,418.1 L181.5,417.4 L181.7,418.4 L181.8,419.1 L182.0,419.9 L182.1,420.0 L182.3,419.7 L182.4,419.3 L182.6,419.0 L182.7,418.7 L182.9,419.4 L183.1,419.2 L183.2,419.7 L183.4,418.1 L183.5,418.9 L183.7,418.5 L183.8,418.2 L184.0,418.7 L184.1,417.9 L184.3,418.0 L184.5,418.4 L184.6,417.6 L184.8,417.1 L184.9,418.1 L185.1,417.0 L185.2,417.1 L185.4,417.0 L185.5,416.9 L185.7,417.0 L185.8,416.8 L186.0,417.5 L186.2,417.2 L186.3,417.8 L186.5,417.5 L186.6,418.1 L186.8,418.0 L186.9,417.4 L187.1,418.0 L187.2,418.3 L187.4,418.7 L187.5,418.4 L187.7,418.7 L187.9,418.4 L188.0,418.2 L188.2,418.4 L188.3,418.3 L188.5,418.5 L188.6,418.1 L188.8,418.7 L188.9,418.7 L189.1,418.3 L189.2,418.6 L189.4,418.7 L189.6,418.8 L189.7,418.7 L189.9,418.4 L190.0,418.5 L190.2,419.0 L190.3,418.5 L190.5,418.6 L190.6,419.0 L190.8,418.4 L190.9,418.8 L191.1,418.8 L191.3,418.5 L191.4,418.3 L191.6,419.0 L191.7,418.6 L191.9,419.1 L192.0,418.0 L192.2,419.0 L192.3,418.4 L192.5,419.0 L192.7,418.6 L192.8,418.1 L193.0,418.9 L193.1,419.2 L193.3,418.0 L193.4,417.2 L193.6,416.8 L193.7,416.5 L193.9,414.9 L194.0,415.1 L194.2,415.0 L194.4,415.5 L194.5,414.4 L194.7,415.3 L194.8,414.0 L195.0,414.6 L195.1,414.2 L195.3,413.6 L195.4,413.9 L195.6,414.4 L195.7,414.4 L195.9,413.1 L196.1,413.2 L196.2,413.7 L196.4,412.9 L196.5,412.9 L196.7,412.7 L196.8,413.8 L197.0,412.8 L197.1,412.2 L197.3,412.4 L197.4,412.4 L197.6,412.6 L197.8,414.3 L197.9,413.4 L198.1,413.6 L198.2,413.0 L198.4,414.7 L198.5,414.7 L198.7,414.8 L198.8,414.7 L199.0,415.5 L199.1,415.1 L199.3,416.1 L199.5,416.0 L199.6,416.5 L199.8,416.5 L199.9,416.8 L200.1,416.9 L200.2,417.2 L200.4,416.1 L200.5,416.3 L200.7,416.6 L200.9,416.2 L201.0,415.8 L201.2,416.5 L201.3,416.1 L201.5,415.7 L201.6,415.7 L201.8,415.9 L201.9,416.5 L202.1,415.1 L202.2,415.4 L202.4,415.4 L202.6,415.3 L202.7,415.4 L202.9,415.1 L203.0,415.4 L203.2,415.6 L203.3,415.4 L203.5,415.3 L203.6,415.3 L203.8,415.4 L203.9,414.7 L204.1,415.4 L204.3,414.6 L204.4,415.2 L204.6,414.7 L204.7,414.2 L204.9,414.6 L205.0,415.0 L205.2,414.6 L205.3,414.5 L205.5,415.2 L205.6,414.5 L205.8,414.5 L206.0,413.9 L206.1,413.9 L206.3,413.4 L206.4,412.8 L206.6,412.5 L206.7,412.2 L206.9,412.0 L207.0,412.1 L207.2,411.7 L207.3,411.4 L207.5,411.3 L207.7,411.1 L207.8,410.9 L208.0,411.4 L208.1,410.5 L208.3,410.2 L208.4,410.4 L208.6,409.7 L208.7,409.3 L208.9,409.3 L209.1,408.7 L209.2,406.8 L209.4,408.4 L209.5,406.4 L209.7,405.6 L209.8,406.2 L210.0,404.3 L210.1,403.0 L210.3,405.6 L210.4,403.7 L210.6,403.1 L210.8,403.3 L210.9,402.4 L211.1,403.7 L211.2,401.4 L211.4,401.3 L211.5,401.2 L211.7,400.8 L211.8,400.7 L212.0,399.5 L212.1,399.9 L212.3,399.0 L212.5,399.0 L212.6,398.3 L212.8,401.8 L212.9,402.4 L213.1,401.8 L213.2,400.9 L213.4,399.9 L213.5,400.2 L213.7,398.9 L213.8,399.1 L214.0,398.8 L214.2,399.3 L214.3,398.7 L214.5,398.4 L214.6,400.5 L214.8,401.3 L214.9,399.7 L215.1,399.4 L215.2,400.6 L215.4,398.4 L215.6,396.9 L215.7,396.3 L215.9,394.7 L216.0,391.7 L216.2,390.6 L216.3,390.6 L216.5,390.7 L216.6,389.3 L216.8,385.6 L216.9,385.4 L217.1,386.9 L217.3,386.2 L217.4,384.6 L217.6,384.8 L217.7,383.3 L217.9,380.7 L218.0,380.6 L218.2,380.2 L218.3,377.7 L218.5,373.6 L218.6,372.9 L218.8,369.4 L219.0,366.1 L219.1,363.3 L219.3,360.5 L219.4,356.2 L219.6,353.1 L219.7,357.9 L219.9,363.0 L220.0,364.2 L220.2,364.5 L220.4,360.8 L220.5,356.5 L220.7,360.2 L220.8,361.9 L221.0,364.4 L221.1,366.3 L221.3,369.2 L221.4,372.6 L221.6,373.9 L221.7,374.8 L221.9,376.5 L222.1,374.5 L222.2,374.0 L222.4,374.1 L222.5,374.8 L222.7,372.7 L222.8,370.4 L223.0,366.7 L223.1,365.3 L223.3,361.8 L223.5,359.3 L223.6,357.0 L223.8,352.5 L223.9,352.3 L224.1,348.9 L224.2,346.5 L224.4,341.9 L224.5,341.6 L224.7,336.0 L224.9,333.9 L225.0,335.2 L225.2,332.5 L225.3,329.5 L225.5,328.4 L225.6,325.8 L225.8,328.6 L225.9,325.5 L226.1,321.5 L226.2,317.5 L226.4,318.4 L226.6,322.3 L226.7,328.0 L226.9,330.9 L227.0,335.1 L227.2,338.9 L227.3,338.4 L227.5,344.2 L227.6,343.0 L227.8,339.6 L228.0,333.6 L228.1,332.9 L228.3,331.9 L228.4,331.1 L228.6,326.7 L228.7,321.6 L228.9,320.9 L229.0,316.8 L229.2,316.3 L229.4,312.6 L229.5,310.7 L229.7,312.9 L229.8,313.3 L230.0,313.2 L230.1,320.6 L230.3,319.5 L230.4,320.5 L230.6,323.7 L230.7,324.8 L230.9,324.3 L231.1,323.6 L231.2,327.8 L231.4,330.5 L231.5,328.1 L231.7,329.7 L231.8,321.2 L232.0,323.0 L232.1,321.3 L232.3,321.5 L232.5,317.4 L232.6,315.3 L232.8,316.7 L232.9,313.5 L233.1,311.8 L233.2,311.9 L233.4,310.5 L233.5,312.1 L233.7,306.2 L233.8,310.0 L234.0,311.6 L234.2,307.2 L234.3,305.9 L234.5,310.4 L234.6,313.7 L234.8,315.0 L234.9,316.3 L235.1,321.8 L235.2,322.2 L235.4,321.7 L235.6,325.6 L235.7,329.5 L235.9,331.3 L236.0,334.1 L236.2,336.1 L236.3,334.2 L236.5,330.7 L236.6,330.2 L236.8,332.3 L237.0,325.8 L237.1,325.3 L237.3,320.0 L237.4,319.0 L237.6,319.6 L237.7,317.4 L237.9,312.5 L238.0,318.5 L238.2,315.7 L238.3,323.0 L238.5,328.2 L238.7,334.5 L238.8,334.6 L239.0,342.0 L239.1,342.4 L239.3,347.9 L239.4,353.4 L239.6,356.4 L239.7,356.9 L239.9,361.0 L240.1,363.3 L240.2,363.9 L240.4,364.2 L240.5,365.8 L240.7,361.0 L240.8,356.9 L241.0,356.3 L241.1,355.8 L241.3,358.1 L241.5,359.0 L241.6,357.8 L241.8,359.3 L241.9,362.6 L242.1,362.5 L242.2,363.7 L242.4,364.9 L242.5,366.5 L242.7,368.4 L242.8,368.3 L243.0,368.5 L243.2,368.1 L243.3,362.4 L243.5,360.8 L243.6,360.6 L243.8,354.5 L243.9,353.8 L244.1,354.8 L244.2,360.8 L244.4,358.0 L244.6,361.5 L244.7,362.0 L244.9,368.1 L245.0,367.9 L245.2,370.4 L245.3,368.9 L245.5,368.2 L245.6,367.2 L245.8,365.2 L246.0,367.2 L246.1,365.9 L246.3,363.3 L246.4,365.5 L246.6,365.0 L246.7,365.5 L246.9,364.7 L247.0,365.3 L247.2,366.0 L247.3,367.3 L247.5,367.5 L247.7,366.3 L247.8,366.9 L248.0,368.2 L248.1,369.1 L248.3,369.2 L248.4,368.2 L248.6,371.6 L248.7,371.1 L248.9,371.4 L249.1,373.8 L249.2,373.5 L249.4,376.4 L249.5,376.0 L249.7,372.5 L249.8,371.0 L250.0,370.5 L250.1,365.2 L250.3,364.4 L250.5,360.4 L250.6,356.2 L250.8,356.4 L250.9,353.1 L251.1,350.2 L251.2,349.4 L251.4,350.0 L251.5,348.7 L251.7,349.6 L251.8,347.4 L252.0,348.0 L252.2,347.3 L252.3,351.4 L252.5,346.9 L252.6,343.4 L252.8,343.6 L252.9,344.9 L253.1,340.1 L253.2,338.6 L253.4,337.4 L253.6,336.0 L253.7,339.4 L253.9,334.5 L254.0,337.1 L254.2,332.3 L254.3,336.4 L254.5,334.6 L254.6,336.0 L254.8,335.0 L255.0,336.5 L255.1,332.2 L255.3,332.0 L255.4,330.4 L255.6,331.2 L255.7,333.3 L255.9,334.7 L256.0,332.5 L256.2,332.0 L256.3,331.8 L256.5,328.8 L256.7,328.8 L256.8,329.4 L257.0,328.4 L257.1,340.7 L257.3,341.3 L257.4,342.8 L257.6,343.2 L257.7,343.3 L257.9,343.9 L258.1,347.4 L258.2,349.5 L258.4,345.9 L258.5,348.8 L258.7,348.2 L258.8,353.2 L259.0,352.1 L259.1,352.5 L259.3,353.3 L259.4,355.3 L259.6,353.9 L259.8,352.0 L259.9,351.4 L260.1,350.6 L260.2,354.1 L260.4,352.7 L260.5,351.6 L260.7,345.3 L260.8,341.1 L261.0,338.6 L261.2,337.4 L261.3,329.8 L261.5,325.7 L261.6,323.0 L261.8,320.5 L261.9,321.2 L262.1,318.1 L262.2,315.7 L262.4,317.0 L262.6,318.2 L262.7,312.2 L262.9,310.4 L263.0,309.9 L263.2,308.1 L263.3,304.3 L263.5,305.8 L263.6,302.8 L263.8,300.7 L263.9,303.8 L264.1,304.1 L264.3,304.1 L264.4,310.4 L264.6,307.6 L264.7,310.9 L264.9,316.3 L265.0,313.2 L265.2,312.1 L265.3,308.0 L265.5,310.8 L265.7,309.1 L265.8,309.6 L266.0,304.7 L266.1,301.0 L266.3,301.3 L266.4,299.9 L266.6,299.7 L266.7,297.6 L266.9,299.6 L267.1,305.6 L267.2,302.2 L267.4,307.8 L267.5,311.5 L267.7,312.9 L267.8,315.2 L268.0,313.7 L268.1,315.4 L268.3,319.6 L268.4,323.2 L268.6,319.5 L268.8,320.4 L268.9,324.2 L269.1,326.7 L269.2,326.1 L269.4,326.7 L269.5,326.3 L269.7,324.2 L269.8,324.1 L270.0,325.9 L270.2,320.0 L270.3,319.0 L270.5,327.8 L270.6,328.7 L270.8,335.7 L270.9,338.3 L271.1,338.0 L271.2,338.9 L271.4,338.9 L271.6,336.4 L271.7,337.7 L271.9,338.7 L272.0,339.8 L272.2,340.9 L272.3,342.6 L272.5,340.1 L272.6,339.3 L272.8,339.2 L272.9,335.8 L273.1,337.1 L273.3,336.2 L273.4,335.9 L273.6,336.8 L273.7,332.3 L273.9,332.5 L274.0,332.4 L274.2,335.6 L274.3,338.8 L274.5,342.8 L274.7,339.1 L274.8,338.5 L275.0,341.7 L275.1,342.7 L275.3,343.2 L275.4,343.8 L275.6,345.8 L275.7,349.6 L275.9,348.7 L276.1,351.7 L276.2,351.5 L276.4,355.8 L276.5,355.1 L276.7,357.5 L276.8,356.6 L277.0,356.6 L277.1,359.7 L277.3,361.9 L277.4,358.3 L277.6,360.5 L277.8,359.9 L277.9,364.4 L278.1,362.2 L278.2,361.7 L278.4,365.2 L278.5,361.8 L278.7,363.8 L278.8,362.3 L279.0,362.0 L279.2,359.6 L279.3,358.6 L279.5,359.0 L279.6,360.0 L279.8,356.3 L279.9,357.0 L280.1,354.5 L280.2,354.1 L280.4,351.2 L280.6,350.9 L280.7,352.2 L280.9,350.1 L281.0,346.9 L281.2,349.4 L281.3,347.5 L281.5,347.7 L281.6,347.3 L281.8,348.1 L281.9,350.0 L282.1,353.5 L282.3,354.1 L282.4,352.7 L282.6,353.3 L282.7,350.9 L282.9,356.6 L283.0,354.5 L283.2,355.8 L283.3,359.9 L283.5,358.3 L283.7,357.1 L283.8,353.2 L284.0,351.7 L284.1,348.6 L284.3,345.6 L284.4,346.1 L284.6,349.3 L284.7,348.6 L284.9,351.4 L285.0,352.4 L285.2,352.0 L285.4,354.7 L285.5,354.6 L285.7,353.9 L285.8,357.2 L286.0,358.5 L286.1,359.4 L286.3,357.2 L286.4,357.5 L286.6,354.3 L286.8,356.4 L286.9,352.5 L287.1,352.9 L287.2,352.1 L287.4,346.9 L287.5,349.6 L287.7,344.2 L287.8,344.6 L288.0,341.9 L288.2,344.4 L288.3,339.5 L288.5,340.0 L288.6,338.8 L288.8,342.7 L288.9,343.9 L289.1,340.9 L289.2,345.7 L289.4,347.8 L289.5,349.2 L289.7,348.7 L289.9,350.0 L290.0,351.3 L290.2,350.1 L290.3,354.2 L290.5,354.1 L290.6,355.8 L290.8,354.0 L290.9,357.6 L291.1,355.0 L291.3,354.1 L291.4,358.7 L291.6,358.5 L291.7,358.7 L291.9,359.9 L292.0,357.0 L292.2,360.3 L292.3,357.3 L292.5,356.2 L292.7,360.6 L292.8,359.0 L293.0,361.4 L293.1,358.0 L293.3,360.2 L293.4,359.7 L293.6,359.6 L293.7,360.0 L293.9,359.9 L294.0,361.5 L294.2,361.6 L294.4,362.1 L294.5,365.2 L294.7,366.8 L294.8,370.6 L295.0,371.4 L295.1,375.7 L295.3,376.2 L295.4,377.7 L295.6,375.4 L295.8,377.0 L295.9,378.1 L296.1,376.2 L296.2,377.2 L296.4,377.6 L296.5,376.4 L296.7,374.5 L296.8,374.6 L297.0,374.8 L297.2,375.4 L297.3,375.2 L297.5,372.3 L297.6,373.2 L297.8,374.2 L297.9,375.1 L298.1,374.0 L298.2,369.3 L298.4,371.9 L298.5,373.3 L298.7,372.4 L298.9,372.2 L299.0,372.9 L299.2,373.2 L299.3,374.6 L299.5,373.3 L299.6,377.8 L299.8,378.2 L299.9,383.7 L300.1,385.1 L300.3,390.0 L300.4,391.2 L300.6,393.0 L300.7,394.1 L300.9,395.0 L301.0,397.9 L301.2,398.5 L301.3,398.0 L301.5,398.0 L301.7,398.7 L301.8,397.8 L302.0,398.6 L302.1,398.4 L302.3,397.8 L302.4,399.5 L302.6,397.7 L302.7,398.2 L302.9,398.4 L303.0,397.6 L303.2,396.7 L303.4,397.4 L303.5,396.1 L303.7,397.7 L303.8,397.7 L304.0,395.6 L304.1,396.3 L304.3,395.8 L304.4,397.0 L304.6,395.7 L304.8,396.0 L304.9,395.6 L305.1,396.0 L305.2,395.1 L305.4,393.4 L305.5,393.9 L305.7,393.3 L305.8,392.8 L306.0,389.7 L306.2,389.7 L306.3,390.3 L306.5,390.4 L306.6,390.3 L306.8,389.8 L306.9,390.4 L307.1,389.5 L307.2,389.7 L307.4,389.5 L307.5,389.8 L307.7,388.9 L307.9,388.8 L308.0,389.1 L308.2,388.5 L308.3,388.3 L308.5,388.1 L308.6,390.1 L308.8,388.7 L308.9,388.8 L309.1,387.4 L309.3,389.3 L309.4,388.5 L309.6,388.0 L309.7,387.9 L309.9,386.7 L310.0,387.5 L310.2,389.0 L310.3,389.0 L310.5,392.1 L310.6,393.4 L310.8,392.1 L311.0,394.1 L311.1,394.1 L311.3,394.3 L311.4,394.9 L311.6,394.9 L311.7,396.4 L311.9,395.2 L312.0,396.5 L312.2,395.7 L312.4,396.7 L312.5,398.3 L312.7,398.2 L312.8,396.8 L313.0,397.9 L313.1,398.4 L313.3,398.2 L313.4,398.9 L313.6,398.9 L313.8,398.1 L313.9,396.5 L314.1,395.2 L314.2,392.9 L314.4,392.7 L314.5,391.4 L314.7,390.9 L314.8,392.0 L315.0,393.0 L315.1,394.4 L315.3,396.0 L315.5,396.9 L315.6,397.9 L315.8,399.2 L315.9,399.5 L316.1,399.5 L316.2,399.8 L316.4,398.1 L316.5,398.8 L316.7,399.3 L316.9,400.2 L317.0,398.9 L317.2,399.0 L317.3,399.4 L317.5,399.3 L317.6,400.0 L317.8,398.0 L317.9,398.3 L318.1,396.4 L318.3,398.1 L318.4,398.1 L318.6,396.9 L318.7,397.7 L318.9,397.6 L319.0,397.9 L319.2,397.9 L319.3,396.4 L319.5,396.6 L319.6,396.0 L319.8,397.3 L320.0,397.0 L320.1,397.5 L320.3,396.1 L320.4,397.7 L320.6,396.2 L320.7,395.7 L320.9,395.4 L321.0,397.0 L321.2,396.2 L321.4,395.2 L321.5,396.3 L321.7,396.1 L321.8,396.3 L322.0,394.2 L322.1,393.6 L322.3,395.1 L322.4,395.0 L322.6,394.4 L322.8,392.0 L322.9,393.7 L323.1,396.1 L323.2,400.1 L323.4,403.5 L323.5,404.9 L323.7,405.3 L323.8,404.3 L324.0,403.9 L324.1,405.1 L324.3,405.4 L324.5,405.3 L324.6,406.1 L324.8,404.6 L324.9,405.7 L325.1,404.5 L325.2,406.1 L325.4,405.1 L325.5,405.7 L325.7,404.6 L325.9,405.1 L326.0,404.0 L326.2,404.3 L326.3,404.8 L326.5,403.6 L326.6,403.3 L326.8,404.7 L326.9,402.3 L327.1,402.9 L327.3,402.6 L327.4,403.9 L327.6,403.1 L327.7,402.7 L327.9,401.6 L328.0,403.0 L328.2,402.5 L328.3,403.0 L328.5,401.7 L328.6,401.1 L328.8,402.2 L329.0,401.0 L329.1,401.5 L329.3,401.0 L329.4,400.5 L329.6,401.2 L329.7,402.0 L329.9,402.6 L330.0,402.7 L330.2,402.6 L330.4,402.3 L330.5,402.6 L330.7,401.7 L330.8,402.7 L331.0,403.6 L331.1,402.2 L331.3,402.8 L331.4,403.5 L331.6,403.1 L331.8,403.2 L331.9,403.6 L332.1,402.7 L332.2,401.2 L332.4,401.9 L332.5,401.9 L332.7,400.6 L332.8,400.2 L333.0,399.6 L333.1,399.2 L333.3,398.3 L333.5,398.9 L333.6,398.6 L333.8,396.5 L333.9,397.0 L334.1,394.9 L334.2,394.3 L334.4,393.3 L334.5,391.8 L334.7,391.6 L334.9,390.6 L335.0,389.5 L335.2,389.6 L335.3,390.0 L335.5,390.5 L335.6,390.5 L335.8,390.2 L335.9,389.8 L336.1,389.5 L336.2,386.8 L336.4,388.6 L336.6,388.4 L336.7,389.6 L336.9,389.3 L337.0,388.9 L337.2,388.3 L337.3,389.2 L337.5,386.8 L337.6,388.5 L337.8,386.9 L338.0,389.7 L338.1,387.6 L338.3,387.2 L338.4,387.1 L338.6,386.6 L338.7,386.7 L338.9,386.8 L339.0,387.1 L339.2,389.3 L339.4,388.8 L339.5,390.6 L339.7,388.5 L339.8,389.3 L340.0,390.1 L340.1,391.0 L340.3,391.3 L340.4,389.7 L340.6,390.2 L340.7,392.1 L340.9,391.4 L341.1,394.1 L341.2,394.7 L341.4,394.0 L341.5,394.7 L341.7,394.9 L341.8,394.7 L342.0,393.0 L342.1,396.1 L342.3,396.0 L342.5,394.1 L342.6,391.9 L342.8,390.1 L342.9,387.2 L343.1,384.2 L343.2,384.6 L343.4,381.0 L343.5,380.6 L343.7,380.8 L343.9,380.0 L344.0,381.6 L344.2,381.6 L344.3,381.9 L344.5,378.9 L344.6,379.0 L344.8,378.9 L344.9,381.1 L345.1,378.9 L345.2,379.1 L345.4,379.5 L345.6,378.8 L345.7,376.9 L345.9,376.8 L346.0,377.2 L346.2,376.4 L346.3,377.3 L346.5,376.4 L346.6,376.2 L346.8,375.4 L347.0,375.8 L347.1,375.6 L347.3,375.4 L347.4,375.7 L347.6,374.8 L347.7,372.9 L347.9,375.4 L348.0,376.0 L348.2,374.6 L348.4,376.1 L348.5,379.7 L348.7,378.0 L348.8,378.4 L349.0,377.9 L349.1,379.0 L349.3,380.8 L349.4,379.7 L349.6,381.2 L349.7,380.6 L349.9,379.1 L350.1,378.4 L350.2,379.6 L350.4,378.6 L350.5,378.2 L350.7,377.4 L350.8,376.7 L351.0,376.6 L351.1,377.3 L351.3,378.6 L351.5,376.3 L351.6,376.3 L351.8,378.4 L351.9,377.5 L352.1,378.5 L352.2,378.6 L352.4,379.1 L352.5,380.6 L352.7,379.6 L352.9,379.5 L353.0,381.6 L353.2,379.1 L353.3,379.3 L353.5,379.9 L353.6,380.1 L353.8,381.6 L353.9,382.9 L354.1,382.9 L354.2,383.6 L354.4,383.9 L354.6,383.2 L354.7,383.5 L354.9,383.0 L355.0,385.6 L355.2,381.7 L355.3,381.9 L355.5,384.2 L355.6,383.7 L355.8,384.1 L356.0,384.4 L356.1,385.0 L356.3,385.0 L356.4,385.8 L356.6,385.1 L356.7,385.4 L356.9,385.2 L357.0,386.4 L357.2,385.8 L357.3,384.6 L357.5,383.4 L357.7,381.6 L357.8,381.9 L358.0,379.2 L358.1,377.3 L358.3,376.3 L358.4,375.9 L358.6,374.1 L358.7,374.6 L358.9,374.2 L359.1,373.1 L359.2,372.1 L359.4,373.9 L359.5,374.3 L359.7,373.2 L359.8,373.3 L360.0,374.4 L360.1,374.1 L360.3,373.3 L360.5,372.4 L360.6,374.4 L360.8,374.1 L360.9,372.3 L361.1,374.2 L361.2,372.6 L361.4,372.3 L361.5,372.7 L361.7,372.5 L361.8,374.0 L362.0,373.4 L362.2,374.2 L362.3,373.9 L362.5,375.6 L362.6,374.0 L362.8,377.3 L362.9,376.2 L363.1,376.4 L363.2,375.8 L363.4,377.3 L363.6,377.9 L363.7,376.8 L363.9,378.0 L364.0,376.7 L364.2,375.7 L364.3,377.9 L364.5,377.1 L364.6,378.6 L364.8,376.7 L365.0,376.5 L365.1,377.7 L365.3,379.0 L365.4,377.4 L365.6,376.7 L365.7,376.8 L365.9,377.2 L366.0,379.9 L366.2,378.8 L366.3,376.7 L366.5,379.4 L366.7,377.1 L366.8,376.3 L367.0,378.3 L367.1,380.4 L367.3,383.9 L367.4,383.0 L367.6,384.4 L367.7,385.2 L367.9,384.3 L368.1,384.5 L368.2,384.4 L368.4,383.8 L368.5,384.6 L368.7,384.4 L368.8,384.2 L369.0,384.7 L369.1,383.1 L369.3,384.4 L369.5,384.8 L369.6,385.2 L369.8,385.6 L369.9,383.9 L370.1,385.0 L370.2,386.2 L370.4,385.8 L370.5,385.5 L370.7,385.8 L370.8,384.5 L371.0,385.6 L371.2,386.3 L371.3,384.6 L371.5,384.6 L371.6,385.5 L371.8,384.1 L371.9,384.0 L372.1,383.1 L372.2,383.7 L372.4,382.8 L372.6,384.3 L372.7,383.5 L372.9,381.4 L373.0,380.9 L373.2,381.6 L373.3,381.8 L373.5,379.9 L373.6,382.7 L373.8,381.1 L374.0,379.4 L374.1,379.8 L374.3,379.2 L374.4,381.0 L374.6,381.9 L374.7,378.8 L374.9,380.2 L375.0,381.3 L375.2,380.5 L375.3,379.8 L375.5,383.3 L375.7,379.9 L375.8,380.4 L376.0,383.2 L376.1,380.6 L376.3,381.4 L376.4,381.8 L376.6,377.4 L376.7,376.7 L376.9,373.2 L377.1,374.7 L377.2,372.5 L377.4,369.6 L377.5,369.9 L377.7,367.5 L377.8,368.0 L378.0,367.2 L378.1,366.5 L378.3,367.4 L378.5,365.1 L378.6,364.7 L378.8,364.9 L378.9,362.5 L379.1,364.7 L379.2,362.2 L379.4,364.2 L379.5,362.2 L379.7,365.2 L379.8,362.2 L380.0,362.3 L380.2,361.7 L380.3,361.9 L380.5,361.6 L380.6,360.9 L380.8,361.0 L380.9,362.5 L381.1,359.2 L381.2,359.4 L381.4,358.7 L381.6,358.1 L381.7,358.2 L381.9,356.3 L382.0,354.4 L382.2,355.2 L382.3,354.9 L382.5,351.6 L382.6,351.5 L382.8,351.0 L382.9,350.0 L383.1,351.5 L383.3,350.5 L383.4,348.0 L383.6,349.8 L383.7,348.5 L383.9,347.1 L384.0,346.4 L384.2,346.3 L384.3,346.8 L384.5,345.0 L384.7,347.0 L384.8,345.7 L385.0,345.3 L385.1,346.1 L385.3,346.2 L385.4,349.2 L385.6,349.6 L385.7,348.7 L385.9,347.1 L386.1,345.7 L386.2,350.0 L386.4,347.8 L386.5,349.7 L386.7,349.7 L386.8,349.2 L387.0,347.8 L387.1,348.7 L387.3,347.4 L387.4,350.8 L387.6,348.1 L387.8,348.2 L387.9,349.6 L388.1,349.2 L388.2,350.0 L388.4,350.0 L388.5,349.9 L388.7,348.0 L388.8,347.5 L389.0,341.0 L389.2,345.5 L389.3,341.2 L389.5,342.6 L389.6,341.5 L389.8,341.1 L389.9,341.2 L390.1,344.9 L390.2,343.5 L390.4,345.7 L390.5,349.8 L390.7,347.8 L390.9,349.2 L391.0,350.5 L391.2,350.0 L391.3,354.1 L391.5,354.0 L391.6,355.8 L391.8,354.1 L391.9,355.8 L392.1,352.1 L392.2,355.2 L392.4,354.3 L392.6,351.0 L392.7,352.7 L392.9,350.5 L393.0,352.1 L393.2,348.8 L393.3,349.9 L393.5,347.0 L393.6,349.1 L393.8,345.3 L394.0,345.7 L394.1,344.4 L394.3,343.8 L394.4,341.8 L394.6,339.3 L394.7,339.5 L394.9,339.4 L395.0,332.6 L395.2,330.3 L395.3,330.5 L395.5,328.2 L395.7,325.0 L395.8,328.1 L396.0,324.3 L396.1,322.4 L396.3,321.8 L396.4,317.4 L396.6,316.7 L396.7,316.5 L396.9,315.2 L397.0,309.7 L397.2,311.2 L397.4,308.0 L397.5,304.3 L397.7,302.3 L397.8,305.2 L398.0,301.0 L398.1,295.9 L398.3,294.9 L398.4,292.9 L398.6,290.7 L398.7,289.6 L398.9,287.9 L399.1,290.3 L399.2,288.8 L399.4,285.1 L399.5,286.0 L399.7,291.1 L399.8,291.5 L400.0,301.7 L400.1,300.2 L400.3,305.8 L400.4,309.0 L400.6,311.5 L400.8,303.1 L400.9,302.7 L401.1,301.4 L401.2,302.0 L401.4,298.6 L401.5,291.8 L401.7,293.4 L401.8,295.8 L402.0,302.3 L402.2,296.4 L402.3,297.5 L402.5,295.3 L402.6,296.2 L402.8,297.7 L402.9,297.9 L403.1,293.6 L403.2,299.9 L403.4,292.0 L403.5,298.3 L403.7,299.9 L403.9,295.7 L404.0,296.6 L404.2,298.2 L404.3,303.2 L404.5,301.5 L404.6,309.8 L404.8,310.2 L404.9,310.5 L405.1,305.8 L405.2,306.6 L405.4,306.7 L405.6,300.2 L405.7,299.1 L405.9,299.0 L406.0,303.2 L406.2,309.2 L406.3,308.0 L406.5,308.3 L406.6,309.4 L406.8,309.0 L406.9,315.4 L407.1,316.7 L407.3,316.4 L407.4,314.2 L407.6,310.2 L407.7,313.5 L407.9,307.2 L408.0,314.6 L408.2,305.5 L408.3,307.4 L408.5,303.5 L408.6,301.5 L408.8,304.4 L409.0,300.4 L409.1,298.1 L409.3,295.8 L409.4,297.9 L409.6,296.6 L409.7,297.3 L409.9,284.6 L410.0,289.5 L410.2,290.0 L410.4,290.1 L410.5,293.3 L410.7,287.3 L410.8,291.0 L411.0,286.1 L411.1,287.6 L411.3,289.7 L411.4,288.0 L411.6,292.7 L411.7,290.7 L411.9,291.4 L412.1,293.2 L412.2,290.0 L412.4,290.4 L412.5,290.1 L412.7,287.8 L412.8,300.7 L413.0,295.5 L413.1,297.4 L413.3,297.5 L413.4,296.6 L413.6,297.9 L413.8,300.0 L413.9,302.3 L414.1,301.3 L414.2,302.7 L414.4,308.8 L414.5,306.5 L414.7,310.0 L414.8,310.7 L415.0,308.9 L415.1,310.3 L415.3,311.2 L415.5,312.6 L415.6,315.1 L415.8,314.4 L415.9,316.6 L416.1,314.6 L416.2,314.6 L416.4,313.0 L416.5,314.8 L416.7,319.7 L416.8,319.7 L417.0,321.3 L417.2,320.1 L417.3,318.1 L417.5,313.2 L417.6,314.4 L417.8,319.0 L417.9,315.7 L418.1,314.4 L418.2,309.0 L418.4,308.7 L418.6,306.5 L418.7,301.6 L418.9,306.0 L419.0,304.5 L419.2,296.3 L419.3,298.6 L419.5,299.6 L419.6,296.1 L419.8,301.3 L419.9,300.5 L420.1,303.0 L420.3,297.4 L420.4,297.9 L420.6,296.0 L420.7,299.0 L420.9,299.1 L421.0,304.8 L421.2,308.9 L421.3,307.0 L421.5,318.6 L421.6,318.3 L421.8,322.2 L422.0,325.7 L422.1,319.3 L422.3,316.1 L422.4,309.7 L422.6,308.3 L422.7,307.2 L422.9,309.0 L423.0,309.4 L423.2,308.5 L423.3,309.9 L423.5,307.9 L423.7,307.8 L423.8,306.4 L424.0,303.5 L424.1,303.2 L424.3,306.9 L424.4,304.2 L424.6,304.6 L424.7,303.2 L424.9,304.5 L425.1,304.3 L425.2,305.6 L425.4,309.2 L425.5,311.7 L425.7,310.0 L425.8,311.0 L426.0,314.2 L426.1,316.4 L426.3,318.6 L426.4,321.7 L426.6,326.0 L426.8,322.9 L426.9,325.9 L427.1,324.4 L427.2,324.8 L427.4,324.5 L427.5,319.0 L427.7,324.0 L427.8,315.7 L428.0,316.9 L428.1,312.1 L428.3,317.4 L428.5,314.8 L428.6,314.6 L428.8,312.0 L428.9,311.6 L429.1,311.6 L429.2,306.3 L429.4,309.2 L429.5,307.4 L429.7,303.7 L429.8,304.9 L430.0,303.4 L430.2,301.1 L430.3,301.2 L430.5,303.8 L430.6,306.7 L430.8,305.0 L430.9,306.1 L431.1,302.7 L431.2,309.8 L431.4,306.1 L431.5,310.9 L431.7,310.8 L431.9,311.6 L432.0,311.1 L432.2,312.6 L432.3,309.5 L432.5,306.2 L432.6,310.2 L432.8,304.6 L432.9,304.0 L433.1,303.1 L433.3,305.4 L433.4,300.2 L433.6,301.2 L433.7,298.8 L433.9,298.9 L434.0,295.2 L434.2,292.7 L434.3,291.3 L434.5,293.1 L434.6,288.7 L434.8,286.0 L435.0,290.6 L435.1,286.8 L435.3,284.7 L435.4,293.6 L435.6,290.6 L435.7,292.2 L435.9,291.7 L436.0,297.0 L436.2,288.4 L436.3,280.8 L436.5,278.0 L436.7,274.8 L436.8,271.9 L437.0,261.7 L437.1,260.3 L437.3,255.0 L437.4,255.0 L437.6,248.9 L437.7,250.8 L437.9,247.5 L438.0,245.4 L438.2,236.0 L438.4,234.2 L438.5,237.4 L438.7,239.9 L438.8,232.1 L439.0,234.9 L439.1,239.3 L439.3,241.9 L439.4,246.6 L439.6,243.7 L439.7,245.4 L439.9,240.1 L440.1,239.3 L440.2,240.2 L440.4,241.1 L440.5,240.2 L440.7,235.0 L440.8,236.2 L441.0,238.5 L441.1,233.8 L441.3,234.3 L441.5,235.0 L441.6,226.4 L441.8,227.1 L441.9,225.3 L442.1,220.6 L442.2,227.6 L442.4,220.8 L442.5,217.9 L442.7,217.3 L442.8,218.4 L443.0,229.4 L443.2,227.0 L443.3,232.7 L443.5,232.6 L443.6,241.0 L443.8,237.8 L443.9,240.4 L444.1,235.7 L444.2,243.5 L444.4,245.5 L444.5,245.9 L444.7,245.4 L444.9,245.8 L445.0,240.0 L445.2,243.4 L445.3,234.5 L445.5,229.8 L445.6,224.8 L445.8,225.4 L445.9,229.0 L446.1,225.2 L446.3,234.7 L446.4,235.2 L446.6,243.3 L446.7,241.8 L446.9,241.4 L447.0,241.3 L447.2,230.6 L447.3,231.0 L447.5,233.6 L447.6,224.9 L447.8,222.0 L448.0,221.5 L448.1,217.5 L448.3,218.8 L448.4,221.4 L448.6,223.7 L448.7,229.3 L448.9,224.8 L449.0,225.8 L449.2,221.5 L449.4,221.2 L449.5,227.4 L449.7,229.3 L449.8,227.6 L450.0,223.9 L450.1,227.3 L450.3,227.8 L450.4,232.7 L450.6,231.1 L450.8,234.7 L450.9,233.9 L451.1,237.3 L451.2,238.7 L451.4,242.3 L451.5,237.3 L451.7,235.1 L451.8,241.4 L452.0,238.2 L452.1,235.0 L452.3,239.2 L452.5,240.2 L452.6,231.3 L452.8,235.5 L452.9,238.3 L453.1,238.6 L453.2,248.6 L453.4,244.0 L453.5,257.6 L453.7,257.6 L453.9,257.2 L454.0,262.7 L454.2,248.5 L454.3,242.1 L454.5,249.4 L454.6,252.8 L454.8,254.3 L454.9,264.6 L455.1,261.2 L455.2,265.4 L455.4,272.0 L455.6,274.5 L455.7,271.8 L455.9,269.8 L456.0,269.9 L456.2,268.0 L456.3,263.8 L456.5,268.2 L456.6,265.0 L456.8,265.7 L457.0,259.8 L457.1,262.7 L457.3,258.7 L457.4,258.4 L457.6,257.2 L457.7,256.0 L457.9,252.5 L458.0,259.5 L458.2,256.7 L458.4,260.1 L458.5,260.3 L458.7,266.2 L458.8,264.6 L459.0,266.7 L459.1,272.0 L459.3,271.1 L459.4,273.7 L459.6,275.0 L459.7,272.9 L459.9,279.7 L460.1,279.3 L460.2,281.4 L460.4,279.3 L460.5,273.5 L460.7,271.6 L460.8,267.4 L461.0,263.3 L461.1,257.3 L461.3,258.9 L461.5,255.9 L461.6,256.8 L461.8,250.2 L461.9,245.0 L462.1,242.3 L462.2,243.7 L462.4,248.7 L462.5,238.4 L462.7,234.9 L462.9,236.1 L463.0,242.4 L463.2,237.3 L463.3,233.1 L463.5,232.4 L463.6,235.2 L463.8,234.2 L463.9,226.6 L464.1,233.2 L464.2,222.3 L464.4,225.9 L464.6,223.6 L464.7,223.3 L464.9,226.8 L465.0,223.0 L465.2,217.2 L465.3,223.7 L465.5,209.6 L465.6,221.0 L465.8,219.1 L466.0,213.3 L466.1,210.4 L466.3,208.1 L466.4,211.0 L466.6,209.1 L466.7,207.9 L466.9,205.7 L467.0,209.4 L467.2,218.3 L467.4,206.8 L467.5,211.0 L467.7,212.9 L467.8,217.3 L468.0,215.6 L468.1,218.1 L468.3,219.8 L468.4,217.1 L468.6,228.5 L468.7,223.1 L468.9,229.1 L469.1,226.9 L469.2,224.5 L469.4,214.4 L469.5,220.1 L469.7,212.9 L469.8,208.8 L470.0,212.6 L470.1,208.6 L470.3,217.3 L470.5,221.4 L470.6,215.1 L470.8,219.8 L470.9,221.3 L471.1,217.9 L471.2,226.4 L471.4,226.1 L471.5,225.9 L471.7,227.9 L471.9,225.4 L472.0,227.6 L472.2,221.1 L472.3,215.6 L472.5,224.0 L472.6,214.7 L472.8,227.7 L472.9,214.2 L473.1,218.1 L473.2,217.3 L473.4,213.4 L473.6,212.9 L473.7,211.9 L473.9,212.1 L474.0,206.6 L474.2,197.8 L474.3,196.1 L474.5,199.6 L474.6,198.0 L474.8,196.4 L475.0,196.0 L475.1,188.8 L475.3,181.8 L475.4,187.0 L475.6,189.7 L475.7,192.5 L475.9,195.1 L476.0,186.1 L476.2,188.7 L476.4,196.1 L476.5,188.7 L476.7,197.6 L476.8,193.6 L477.0,192.4 L477.1,200.0 L477.3,199.2 L477.4,196.9 L477.6,198.5 L477.7,197.5 L477.9,205.9 L478.1,204.0 L478.2,195.9 L478.4,194.8 L478.5,198.1 L478.7,194.2 L478.8,197.1 L479.0,192.6 L479.1,195.2 L479.3,187.5 L479.5,185.0 L479.6,178.0 L479.8,181.5 L479.9,180.0 L480.1,183.0 L480.2,190.2 L480.4,192.0 L480.5,194.8 L480.7,194.9 L480.8,205.5 L481.0,197.3 L481.2,208.5 L481.3,206.8 L481.5,206.9 L481.6,209.2 L481.8,211.7 L481.9,204.2 L482.1,211.4 L482.2,205.8 L482.4,208.0 L482.6,212.9 L482.7,213.8 L482.9,209.5 L483.0,205.1 L483.2,210.2 L483.3,207.7 L483.5,209.1 L483.6,205.8 L483.8,206.3 L484.0,203.7 L484.1,199.1 L484.3,196.5 L484.4,200.4 L484.6,199.1 L484.7,195.5 L484.9,198.9 L485.0,200.9 L485.2,191.3 L485.3,194.6 L485.5,200.7 L485.7,195.9 L485.8,205.6 L486.0,197.2 L486.1,210.6 L486.3,205.8 L486.4,211.3 L486.6,202.8 L486.7,209.3 L486.9,197.0 L487.1,203.1 L487.2,203.8 L487.4,191.1 L487.5,188.2 L487.7,188.8 L487.8,195.1 L488.0,182.0 L488.1,178.6 L488.3,186.2 L488.5,192.6 L488.6,198.2 L488.8,203.0 L488.9,211.7 L489.1,209.0 L489.2,202.0 L489.4,205.0 L489.5,214.0 L489.7,217.2 L489.8,216.5 L490.0,214.0 L490.2,210.5 L490.3,210.7 L490.5,212.3 L490.6,214.6 L490.8,207.6 L490.9,205.6 L491.1,198.5 L491.2,197.3 L491.4,199.8 L491.6,202.4 L491.7,204.3 L491.9,213.4 L492.0,212.7 L492.2,209.2" fill="none" stroke="#111" stroke-width="1.15" stroke-linejoin="round"/>
<text x="516.5" y="182.5" class="yl">$125K</text><text x="516.5" y="234.5" class="yl">$100K</text><text x="516.5" y="286.5" class="yl">$75K</text><text x="516.5" y="338.5" class="yl">$50K</text><text x="516.5" y="390.5" class="yl">$25K</text><text x="516.5" y="442.5" class="yl">$0</text>
<rect x="501" y="310" width="44" height="24" fill="#4a3bdc"/>
<text x="506" y="327" class="yl lb">55.9K</text>
<rect x="500.8" y="197" width="47.5" height="23.8" fill="#111"/>
<text x="506.5" y="213.7" class="yl lb">$110K</text>
</svg>
</div>

<div class="card" style="left:611px">
  <div class="hdr">
    <svg class="btc" width="24" height="24" viewBox="0 0 24 24"><circle cx="12" cy="12" r="11.5" fill="#f0943a"/><text x="12.2" y="17" text-anchor="middle" font-family='"Liberation Sans", Arial, sans-serif' font-weight="bold" font-size="14" fill="#fff" stroke="#fff" stroke-width="0.45" transform="rotate(12 12 12)">&#x20BF;</text></svg>
    <span class="title">Bitcoin: Realized Cap</span>
    <svg class="info" style="left:211px" width="16" height="16" viewBox="0 0 16 16"><circle cx="8" cy="8" r="6.8" fill="none" stroke="#9a9aa3" stroke-width="1"/><rect x="7.3" y="6.8" width="1.4" height="4.6" fill="#9a9aa3"/><rect x="7.3" y="4.2" width="1.4" height="1.5" fill="#9a9aa3"/></svg>
    <svg class="ic1" width="14" height="14" viewBox="0 0 15 15" fill="none" stroke="#686871" stroke-width="1.2"><path d="M1 4.8V1H4.8M10.2 1H14V4.8M14 10.2V14H10.2M4.8 14H1V10.2"/></svg>
    <svg class="ic2" width="14.5" height="14.5" viewBox="0 0 15 15" fill="none" stroke="#686871" stroke-width="1.2"><path d="M6.5 1H1V14H14V8.5M9 1H14V6M14 1L6.8 8.2"/></svg>
    <svg class="ic3" width="4" height="14" viewBox="0 0 4 14" fill="#77777f"><circle cx="2" cy="2" r="1"/><circle cx="2" cy="7" r="1"/><circle cx="2" cy="12" r="1"/></svg>
  </div>
  <div class="btns">
    <span class="b" style="left:23.5px;width:36px">Day</span>
    <span class="b" style="left:68px;width:44.5px">None</span>
    <span class="b" style="left:120.5px;width:45px">None</span>
    <span class="b" style="left:173.8px;width:47.6px">Mixed</span>
    <span class="b" style="left:229.8px;width:37.7px">Line</span>
    <span class="b date" style="left:276px;width:148.3px"><svg width="14" height="14" viewBox="0 0 14 14" fill="none" stroke="#6a6a75" stroke-width="1.1"><rect x="1" y="2.2" width="12" height="11" rx="1.2"/><path d="M1 5.6H13M4 0.6V3M10 0.6V3"/></svg><span>2017-Nov-01 ~ now</span></span>
  </div>
  <div class="leg"><i class="ln" style="left:197px;background:#555"></i><span style="left:216.8px">Price USD</span><i class="ln" style="left:292.5px;background:#6a5fe0"></i><span style="left:312.5px">Realized Cap</span></div>
  <svg class="chart" style="left:-612px;top:-7px" width="1199" height="514" viewBox="0 0 1199 514">
<text x="901" y="300.3" text-anchor="middle" font-family='"Liberation Sans", Arial, sans-serif' font-size="27.8" fill="#f0f0f5" letter-spacing="0">CryptoQuant</text>
<line x1="697" x2="1100" y1="206.5" y2="206.5" stroke="#f1f1f5" stroke-width="1"/><line x1="697" x2="1100" y1="264.5" y2="264.5" stroke="#f1f1f5" stroke-width="1"/><line x1="697" x2="1100" y1="322.5" y2="322.5" stroke="#f1f1f5" stroke-width="1"/><line x1="697" x2="1100" y1="380.5" y2="380.5" stroke="#f1f1f5" stroke-width="1"/>
<line x1="697" x2="1100" y1="438.5" y2="438.5" stroke="#d9d9de" stroke-width="1"/>
<line x1="705.5" x2="705.5" y1="438" y2="446" stroke="#d0d0d6" stroke-width="1"/><line x1="805.5" x2="805.5" y1="438" y2="446" stroke="#d0d0d6" stroke-width="1"/><line x1="906.5" x2="906.5" y1="438" y2="446" stroke="#d0d0d6" stroke-width="1"/><line x1="1006.5" x2="1006.5" y1="438" y2="446" stroke="#d0d0d6" stroke-width="1"/>
<text x="706.3" y="464.5" text-anchor="middle" class="xl">2018</text><text x="806.3" y="464.5" text-anchor="middle" class="xl">2020</text><text x="906.5" y="464.5" text-anchor="middle" class="xl">2022</text><text x="1006.8" y="464.5" text-anchor="middle" class="xl">2024</text>
<path d="M697.6,428.9 L698.0,428.8 L698.5,428.7 L698.9,428.4 L699.3,428.2 L699.7,427.9 L700.1,427.5 L700.5,427.1 L700.9,426.6 L701.3,426.0 L701.7,425.4 L702.2,424.8 L702.6,424.1 L703.0,423.4 L703.4,422.6 L703.8,421.9 L704.2,421.1 L704.6,420.4 L705.0,419.7 L705.5,419.2 L705.9,418.7 L706.3,418.4 L706.7,418.0 L707.1,417.6 L707.5,417.3 L707.9,417.1 L708.3,416.9 L708.7,416.7 L709.2,416.6 L709.6,416.6 L710.0,416.5 L710.4,416.4 L710.8,416.3 L711.2,416.3 L711.6,416.2 L712.0,416.2 L712.5,416.1 L712.9,416.1 L713.3,416.1 L713.7,416.1 L714.1,416.0 L714.5,416.0 L714.9,416.0 L715.3,416.0 L715.7,416.0 L716.2,415.9 L716.6,415.9 L717.0,415.9 L717.4,415.9 L717.8,415.8 L718.2,415.8 L718.6,415.8 L719.0,415.8 L719.5,415.7 L719.9,415.7 L720.3,415.7 L720.7,415.7 L721.1,415.6 L721.5,415.6 L721.9,415.6 L722.3,415.6 L722.7,415.6 L723.2,415.5 L723.6,415.5 L724.0,415.5 L724.4,415.5 L724.8,415.5 L725.2,415.5 L725.6,415.6 L726.0,415.6 L726.5,415.6 L726.9,415.6 L727.3,415.6 L727.7,415.6 L728.1,415.6 L728.5,415.7 L728.9,415.7 L729.3,415.7 L729.7,415.7 L730.2,415.7 L730.6,415.7 L731.0,415.7 L731.4,415.7 L731.8,415.7 L732.2,415.7 L732.6,415.8 L733.0,415.8 L733.5,415.8 L733.9,415.8 L734.3,415.8 L734.7,415.8 L735.1,415.8 L735.5,415.8 L735.9,415.8 L736.3,415.8 L736.7,415.8 L737.2,415.8 L737.6,415.8 L738.0,415.8 L738.4,415.8 L738.8,415.8 L739.2,415.8 L739.6,415.8 L740.0,415.8 L740.5,415.9 L740.9,415.9 L741.3,415.9 L741.7,415.9 L742.1,415.9 L742.5,415.9 L742.9,415.9 L743.3,415.9 L743.7,415.9 L744.2,415.9 L744.6,415.9 L745.0,415.9 L745.4,415.9 L745.8,415.9 L746.2,415.9 L746.6,415.9 L747.0,415.9 L747.5,415.9 L747.9,415.9 L748.3,416.0 L748.7,416.0 L749.1,416.2 L749.5,416.4 L749.9,416.7 L750.3,417.0 L750.7,417.3 L751.2,417.6 L751.6,417.8 L752.0,418.0 L752.4,418.2 L752.8,418.3 L753.2,418.4 L753.6,418.6 L754.0,418.7 L754.5,418.8 L754.9,418.9 L755.3,419.0 L755.7,419.1 L756.1,419.2 L756.5,419.2 L756.9,419.3 L757.3,419.3 L757.7,419.3 L758.2,419.3 L758.6,419.4 L759.0,419.4 L759.4,419.4 L759.8,419.4 L760.2,419.5 L760.6,419.5 L761.0,419.5 L761.5,419.5 L761.9,419.5 L762.3,419.6 L762.7,419.6 L763.1,419.6 L763.5,419.6 L763.9,419.7 L764.3,419.7 L764.7,419.7 L765.2,419.7 L765.6,419.8 L766.0,419.8 L766.4,419.8 L766.8,419.8 L767.2,419.8 L767.6,419.9 L768.0,419.9 L768.5,419.8 L768.9,419.8 L769.3,419.7 L769.7,419.7 L770.1,419.6 L770.5,419.5 L770.9,419.4 L771.3,419.3 L771.7,419.3 L772.2,419.2 L772.6,419.1 L773.0,419.0 L773.4,419.0 L773.8,418.9 L774.2,418.8 L774.6,418.6 L775.0,418.5 L775.5,418.3 L775.9,418.1 L776.3,417.9 L776.7,417.7 L777.1,417.5 L777.5,417.3 L777.9,417.1 L778.3,416.9 L778.7,416.7 L779.2,416.4 L779.6,416.2 L780.0,416.0 L780.4,415.8 L780.8,415.6 L781.2,415.5 L781.6,415.4 L782.0,415.3 L782.5,415.3 L782.9,415.2 L783.3,415.2 L783.7,415.1 L784.1,415.1 L784.5,415.0 L784.9,415.0 L785.3,414.9 L785.7,414.8 L786.2,414.8 L786.6,414.7 L787.0,414.7 L787.4,414.6 L787.8,414.6 L788.2,414.5 L788.6,414.5 L789.0,414.4 L789.5,414.4 L789.9,414.4 L790.3,414.3 L790.7,414.4 L791.1,414.4 L791.5,414.4 L791.9,414.4 L792.3,414.4 L792.7,414.4 L793.2,414.4 L793.6,414.4 L794.0,414.4 L794.4,414.4 L794.8,414.4 L795.2,414.4 L795.6,414.4 L796.0,414.4 L796.5,414.4 L796.9,414.4 L797.3,414.4 L797.7,414.5 L798.1,414.5 L798.5,414.5 L798.9,414.5 L799.3,414.5 L799.7,414.5 L800.2,414.5 L800.6,414.5 L801.0,414.5 L801.4,414.5 L801.8,414.5 L802.2,414.5 L802.6,414.5 L803.0,414.5 L803.5,414.5 L803.9,414.5 L804.3,414.5 L804.7,414.5 L805.1,414.6 L805.5,414.6 L805.9,414.5 L806.3,414.5 L806.7,414.5 L807.2,414.4 L807.6,414.4 L808.0,414.3 L808.4,414.3 L808.8,414.2 L809.2,414.2 L809.6,414.1 L810.0,414.1 L810.4,414.0 L810.9,414.0 L811.3,413.9 L811.7,413.9 L812.1,413.8 L812.5,413.8 L812.9,413.7 L813.3,413.7 L813.7,413.6 L814.1,413.6 L814.6,413.5 L815.0,413.5 L815.4,413.5 L815.8,413.7 L816.2,413.9 L816.6,414.2 L817.0,414.4 L817.4,414.5 L817.8,414.5 L818.2,414.5 L818.7,414.4 L819.1,414.4 L819.5,414.3 L819.9,414.3 L820.3,414.3 L820.7,414.2 L821.1,414.2 L821.5,414.2 L821.9,414.1 L822.4,414.1 L822.8,414.0 L823.2,414.0 L823.6,414.0 L824.0,413.9 L824.4,413.9 L824.8,413.8 L825.2,413.8 L825.6,413.8 L826.0,413.7 L826.5,413.7 L826.9,413.6 L827.3,413.6 L827.7,413.5 L828.1,413.4 L828.5,413.3 L828.9,413.3 L829.3,413.2 L829.7,413.1 L830.2,413.0 L830.6,412.9 L831.0,412.9 L831.4,412.8 L831.8,412.7 L832.2,412.6 L832.6,412.5 L833.0,412.4 L833.4,412.4 L833.9,412.3 L834.3,412.2 L834.7,412.1 L835.1,412.0 L835.5,411.9 L835.9,411.8 L836.3,411.8 L836.7,411.7 L837.1,411.6 L837.5,411.5 L838.0,411.4 L838.4,411.3 L838.8,411.2 L839.2,411.1 L839.6,411.0 L840.0,410.9 L840.4,410.8 L840.8,410.7 L841.2,410.7 L841.7,410.6 L842.1,410.5 L842.5,410.4 L842.9,410.3 L843.3,410.2 L843.7,410.1 L844.1,410.0 L844.5,409.9 L844.9,409.8 L845.3,409.7 L845.8,409.6 L846.2,409.4 L846.6,409.1 L847.0,408.8 L847.4,408.4 L847.8,408.0 L848.2,407.6 L848.6,407.2 L849.0,406.8 L849.5,406.4 L849.9,406.0 L850.3,405.5 L850.7,405.0 L851.1,404.4 L851.5,403.8 L851.9,403.1 L852.3,402.4 L852.7,401.7 L853.2,401.0 L853.6,400.3 L854.0,399.6 L854.4,398.8 L854.8,397.9 L855.2,396.9 L855.6,395.9 L856.0,394.8 L856.4,393.7 L856.8,392.6 L857.3,391.5 L857.7,390.5 L858.1,389.6 L858.5,388.7 L858.9,387.8 L859.3,386.9 L859.7,386.0 L860.1,385.0 L860.6,384.0 L861.0,382.8 L861.4,381.5 L861.8,380.1 L862.2,378.6 L862.6,377.2 L863.0,375.7 L863.4,374.2 L863.8,372.7 L864.3,371.4 L864.7,370.0 L865.1,368.7 L865.5,367.4 L865.9,366.1 L866.3,364.7 L866.7,363.5 L867.1,362.3 L867.6,361.3 L868.0,360.5 L868.4,359.6 L868.8,358.8 L869.2,357.9 L869.6,357.1 L870.0,356.2 L870.4,355.3 L870.8,354.5 L871.3,353.8 L871.7,353.1 L872.1,352.5 L872.5,352.0 L872.9,351.5 L873.3,350.9 L873.7,350.4 L874.1,349.9 L874.6,349.7 L875.0,349.6 L875.4,349.7 L875.8,350.0 L876.2,350.3 L876.6,350.6 L877.0,350.9 L877.4,351.1 L877.8,351.2 L878.3,351.3 L878.7,351.5 L879.1,351.6 L879.5,351.7 L879.9,351.8 L880.3,351.9 L880.7,352.0 L881.1,352.1 L881.6,352.3 L882.0,352.4 L882.4,352.5 L882.8,352.6 L883.2,352.7 L883.6,352.6 L884.0,352.3 L884.4,352.0 L884.9,351.5 L885.3,350.9 L885.7,350.4 L886.1,349.8 L886.5,349.3 L886.9,348.8 L887.3,348.2 L887.7,347.7 L888.1,347.3 L888.6,346.9 L889.0,346.6 L889.4,346.3 L889.8,345.9 L890.2,345.6 L890.6,345.3 L891.0,345.0 L891.4,344.7 L891.9,344.3 L892.3,343.9 L892.7,343.5 L893.1,343.0 L893.5,342.4 L893.9,341.9 L894.3,341.3 L894.7,340.8 L895.1,340.2 L895.6,339.6 L896.0,339.1 L896.4,338.5 L896.8,337.9 L897.2,337.2 L897.6,336.4 L898.0,335.6 L898.4,334.8 L898.9,334.0 L899.3,333.2 L899.7,332.5 L900.1,332.0 L900.5,331.6 L900.9,331.4 L901.3,331.3 L901.7,331.1 L902.1,331.0 L902.6,330.9 L903.0,330.8 L903.4,330.7 L903.8,330.7 L904.2,330.8 L904.6,330.9 L905.0,331.0 L905.4,331.1 L905.9,331.2 L906.3,331.3 L906.7,331.4 L907.1,331.5 L907.5,331.6 L907.9,331.8 L908.3,331.9 L908.7,332.0 L909.1,332.1 L909.6,332.1 L910.0,332.1 L910.4,332.1 L910.8,332.0 L911.2,332.0 L911.6,331.9 L912.0,331.9 L912.4,331.8 L912.9,331.8 L913.3,331.7 L913.7,331.6 L914.1,331.6 L914.5,331.5 L914.9,331.3 L915.3,331.2 L915.7,331.0 L916.1,330.9 L916.6,330.7 L917.0,330.6 L917.4,330.4 L917.8,330.3 L918.2,330.1 L918.6,329.9 L919.0,329.8 L919.4,329.7 L919.9,329.6 L920.3,329.6 L920.7,329.6 L921.1,329.7 L921.5,329.9 L921.9,330.0 L922.3,330.1 L922.7,330.2 L923.1,330.3 L923.6,330.5 L924.0,330.9 L924.4,331.5 L924.8,332.2 L925.2,333.1 L925.6,333.9 L926.0,334.5 L926.4,335.1 L926.9,335.7 L927.3,336.2 L927.7,336.7 L928.1,337.3 L928.5,337.8 L928.9,338.3 L929.3,338.8 L929.7,339.2 L930.1,339.5 L930.6,339.7 L931.0,339.9 L931.4,340.1 L931.8,340.2 L932.2,340.4 L932.6,340.6 L933.0,340.7 L933.4,340.9 L933.9,341.1 L934.3,341.2 L934.7,341.4 L935.1,341.5 L935.5,341.7 L935.9,341.8 L936.3,341.9 L936.7,342.0 L937.1,342.2 L937.6,342.3 L938.0,342.4 L938.4,342.5 L938.8,342.6 L939.2,342.7 L939.6,342.8 L940.0,342.9 L940.4,343.0 L940.9,343.1 L941.3,343.2 L941.7,343.3 L942.1,343.4 L942.5,343.5 L942.9,343.5 L943.3,343.6 L943.7,343.7 L944.1,343.8 L944.6,343.8 L945.0,343.9 L945.4,344.0 L945.8,344.0 L946.2,344.1 L946.6,344.2 L947.0,344.2 L947.4,344.3 L947.9,344.4 L948.3,344.6 L948.7,345.0 L949.1,345.5 L949.5,346.3 L949.9,347.2 L950.3,347.9 L950.7,348.5 L951.1,348.8 L951.6,349.0 L952.0,349.1 L952.4,349.1 L952.8,349.2 L953.2,349.2 L953.6,349.3 L954.0,349.3 L954.4,349.4 L954.9,349.4 L955.3,349.5 L955.7,349.5 L956.1,349.6 L956.5,349.6 L956.9,349.6 L957.3,349.6 L957.7,349.6 L958.1,349.5 L958.6,349.5 L959.0,349.5 L959.4,349.5 L959.8,349.5 L960.2,349.5 L960.6,349.5 L961.0,349.4 L961.4,349.4 L961.9,349.4 L962.3,349.4 L962.7,349.4 L963.1,349.3 L963.5,349.3 L963.9,349.2 L964.3,349.1 L964.7,349.1 L965.1,349.0 L965.6,349.0 L966.0,348.9 L966.4,348.8 L966.8,348.8 L967.2,348.7 L967.6,348.7 L968.0,348.6 L968.4,348.6 L968.9,348.5 L969.3,348.4 L969.7,348.4 L970.1,348.3 L970.5,348.3 L970.9,348.2 L971.3,348.1 L971.7,348.1 L972.1,348.0 L972.6,347.9 L973.0,347.9 L973.4,347.8 L973.8,347.7 L974.2,347.6 L974.6,347.6 L975.0,347.5 L975.4,347.4 L975.9,347.4 L976.3,347.3 L976.7,347.2 L977.1,347.2 L977.5,347.1 L977.9,347.0 L978.3,347.0 L978.7,346.9 L979.1,346.8 L979.6,346.8 L980.0,346.7 L980.4,346.6 L980.8,346.5 L981.2,346.5 L981.6,346.4 L982.0,346.3 L982.4,346.3 L982.9,346.2 L983.3,346.1 L983.7,346.1 L984.1,346.1 L984.5,346.0 L984.9,346.0 L985.3,346.0 L985.7,345.9 L986.1,345.9 L986.6,345.9 L987.0,345.9 L987.4,345.8 L987.8,345.8 L988.2,345.8 L988.6,345.7 L989.0,345.7 L989.4,345.7 L989.9,345.6 L990.3,345.6 L990.7,345.6 L991.1,345.6 L991.5,345.5 L991.9,345.5 L992.3,345.5 L992.7,345.4 L993.1,345.4 L993.6,345.4 L994.0,345.3 L994.4,345.3 L994.8,345.3 L995.2,345.2 L995.6,345.2 L996.0,345.1 L996.4,344.9 L996.9,344.7 L997.3,344.5 L997.7,344.2 L998.1,344.0 L998.5,343.8 L998.9,343.6 L999.3,343.3 L999.7,343.1 L1000.1,342.9 L1000.6,342.6 L1001.0,342.3 L1001.4,342.0 L1001.8,341.7 L1002.2,341.5 L1002.6,341.2 L1003.0,340.9 L1003.4,340.6 L1003.9,340.3 L1004.3,340.0 L1004.7,339.7 L1005.1,339.4 L1005.5,339.2 L1005.9,338.9 L1006.3,338.6 L1006.7,338.3 L1007.1,338.0 L1007.6,337.7 L1008.0,337.4 L1008.4,337.1 L1008.8,336.8 L1009.2,336.5 L1009.6,336.1 L1010.0,335.8 L1010.4,335.5 L1010.8,335.2 L1011.3,334.9 L1011.7,334.5 L1012.1,333.8 L1012.5,333.0 L1012.9,332.0 L1013.3,330.8 L1013.7,329.6 L1014.1,328.4 L1014.5,327.0 L1015.0,325.5 L1015.4,323.7 L1015.8,321.8 L1016.2,319.7 L1016.6,317.6 L1017.0,315.8 L1017.4,314.2 L1017.8,313.0 L1018.2,312.0 L1018.6,311.4 L1019.1,310.7 L1019.5,310.0 L1019.9,309.3 L1020.3,308.6 L1020.7,307.9 L1021.1,307.4 L1021.5,306.9 L1021.9,306.6 L1022.3,306.2 L1022.8,305.9 L1023.2,305.5 L1023.6,305.2 L1024.0,304.8 L1024.4,304.5 L1024.8,304.1 L1025.2,303.7 L1025.6,303.4 L1026.0,303.0 L1026.4,302.7 L1026.9,302.3 L1027.3,301.9 L1027.7,301.5 L1028.1,301.1 L1028.5,300.7 L1028.9,300.2 L1029.3,299.8 L1029.7,299.3 L1030.1,298.9 L1030.6,298.5 L1031.0,298.0 L1031.4,297.6 L1031.8,297.1 L1032.2,296.7 L1032.6,296.2 L1033.0,295.8 L1033.4,295.5 L1033.8,295.3 L1034.3,295.2 L1034.7,295.2 L1035.1,295.1 L1035.5,295.1 L1035.9,295.0 L1036.3,295.0 L1036.7,295.0 L1037.1,294.9 L1037.5,294.9 L1037.9,294.8 L1038.4,294.8 L1038.8,294.7 L1039.2,294.7 L1039.6,294.6 L1040.0,294.6 L1040.4,294.6 L1040.8,294.5 L1041.2,294.5 L1041.6,294.4 L1042.1,294.4 L1042.5,294.3 L1042.9,294.3 L1043.3,294.2 L1043.7,294.0 L1044.1,293.7 L1044.5,293.2 L1044.9,292.5 L1045.3,291.8 L1045.7,291.0 L1046.2,290.3 L1046.6,289.6 L1047.0,288.8 L1047.4,288.1 L1047.8,287.3 L1048.2,286.6 L1048.6,285.6 L1049.0,284.3 L1049.4,282.8 L1049.9,281.1 L1050.3,279.2 L1050.7,277.3 L1051.1,275.4 L1051.5,273.4 L1051.9,271.4 L1052.3,269.4 L1052.7,267.3 L1053.1,265.3 L1053.6,263.1 L1054.0,261.0 L1054.4,258.9 L1054.8,257.0 L1055.2,255.4 L1055.6,254.1 L1056.0,253.1 L1056.4,252.2 L1056.8,251.3 L1057.2,250.4 L1057.7,249.5 L1058.1,248.6 L1058.5,247.7 L1058.9,246.8 L1059.3,245.8 L1059.7,244.9 L1060.1,244.0 L1060.5,243.2 L1061.0,242.4 L1061.4,241.8 L1061.8,241.3 L1062.2,240.8 L1062.6,240.3 L1063.0,239.7 L1063.4,239.2 L1063.8,238.7 L1064.2,238.3 L1064.7,237.8 L1065.1,237.5 L1065.5,237.2 L1065.9,237.0 L1066.3,236.8 L1066.7,236.6 L1067.1,236.4 L1067.5,236.2 L1068.0,236.0 L1068.4,235.7 L1068.8,235.5 L1069.2,235.3 L1069.6,235.1 L1070.0,234.9 L1070.4,234.7 L1070.8,234.5 L1071.2,234.2 L1071.7,233.8 L1072.1,233.3 L1072.5,232.7 L1072.9,232.0 L1073.3,231.3 L1073.7,230.6 L1074.1,229.9 L1074.5,229.2 L1075.0,228.5 L1075.4,227.8 L1075.8,227.1 L1076.2,226.4 L1076.6,225.7 L1077.0,224.9 L1077.4,224.2 L1077.8,223.4 L1078.2,222.7 L1078.7,221.9 L1079.1,221.1 L1079.5,220.3 L1079.9,219.6 L1080.3,218.8 L1080.7,218.0 L1081.1,217.1 L1081.5,215.9 L1082.0,214.5 L1082.4,212.8 L1082.8,211.0 L1083.2,209.2 L1083.6,207.4 L1084.0,205.8 L1084.4,204.5 L1084.8,203.4 L1085.3,202.5 L1085.7,201.6 L1086.1,200.7 L1086.5,199.8 L1086.9,198.9 L1087.3,198.0 L1087.7,197.1 L1088.1,196.2 L1088.5,195.4 L1089.0,194.7 L1089.4,194.0 L1089.8,193.3 L1090.2,192.6 L1090.6,191.9 L1091.0,191.2 L1091.4,190.5 L1091.8,189.8 L1092.3,189.0 L1092.7,188.3 L1093.1,187.5 L1093.5,186.6 L1093.9,185.7 L1094.3,184.8 L1094.7,183.9 L1095.1,183.0 L1095.5,182.2 L1096.0,181.4 L1096.4,180.6 L1096.8,179.9 L1097.2,179.3 L1097.6,178.7 L1098.0,178.4 L1098.4,178.1" fill="none" stroke="#7267dd" stroke-width="1.85" stroke-linejoin="round"/>
<path d="M697.6,375.6 L697.8,375.0 L697.9,373.1 L698.0,373.0 L698.2,372.2 L698.3,371.9 L698.5,370.1 L698.6,368.9 L698.7,371.5 L698.9,376.1 L699.0,379.2 L699.1,384.2 L699.3,381.2 L699.4,378.3 L699.5,375.8 L699.7,375.2 L699.8,369.6 L700.0,367.3 L700.1,364.6 L700.2,362.4 L700.4,363.0 L700.5,361.6 L700.6,359.2 L700.8,357.3 L700.9,355.0 L701.1,354.0 L701.2,351.9 L701.3,351.8 L701.5,349.7 L701.6,344.8 L701.7,340.2 L701.9,337.0 L702.0,329.8 L702.2,326.6 L702.3,321.4 L702.4,319.0 L702.6,313.8 L702.7,317.2 L702.8,319.3 L703.0,321.5 L703.1,319.1 L703.3,315.8 L703.4,313.7 L703.5,312.0 L703.7,310.1 L703.8,307.1 L703.9,304.1 L704.1,307.3 L704.2,314.2 L704.4,317.6 L704.5,322.0 L704.6,327.1 L704.8,327.0 L704.9,323.4 L705.0,320.1 L705.2,322.1 L705.3,318.0 L705.5,323.1 L705.6,327.6 L705.7,332.2 L705.9,330.4 L706.0,326.1 L706.1,323.9 L706.3,322.7 L706.4,317.3 L706.5,314.6 L706.7,312.6 L706.8,314.8 L707.0,317.6 L707.1,322.1 L707.2,325.7 L707.4,329.1 L707.5,332.7 L707.6,332.5 L707.8,335.9 L707.9,337.8 L708.1,340.7 L708.2,341.3 L708.3,339.4 L708.5,335.9 L708.6,332.2 L708.7,332.7 L708.9,338.4 L709.0,339.7 L709.2,339.7 L709.3,340.2 L709.4,343.1 L709.6,347.9 L709.7,350.6 L709.8,349.2 L710.0,352.4 L710.1,354.7 L710.3,355.4 L710.4,358.9 L710.5,363.5 L710.7,369.3 L710.8,374.1 L710.9,370.9 L711.1,367.7 L711.2,363.3 L711.4,361.5 L711.5,359.2 L711.6,356.7 L711.8,354.8 L711.9,355.3 L712.0,350.1 L712.2,348.6 L712.3,347.1 L712.5,348.1 L712.6,344.7 L712.7,341.0 L712.9,340.1 L713.0,342.1 L713.1,340.2 L713.3,338.8 L713.4,341.4 L713.5,338.0 L713.7,339.2 L713.8,340.0 L714.0,339.4 L714.1,338.9 L714.2,339.5 L714.4,338.3 L714.5,340.3 L714.6,339.5 L714.8,343.6 L714.9,345.5 L715.1,350.3 L715.2,353.9 L715.3,355.9 L715.5,354.7 L715.6,355.1 L715.7,358.2 L715.9,360.2 L716.0,359.7 L716.2,360.7 L716.3,361.8 L716.4,362.4 L716.6,359.9 L716.7,361.8 L716.8,358.2 L717.0,360.2 L717.1,358.7 L717.3,356.9 L717.4,358.4 L717.5,360.1 L717.7,362.7 L717.8,365.6 L717.9,368.1 L718.1,370.4 L718.2,372.2 L718.4,375.1 L718.5,375.2 L718.6,374.6 L718.8,374.2 L718.9,374.7 L719.0,373.8 L719.2,373.9 L719.3,372.1 L719.5,374.0 L719.6,374.7 L719.7,374.1 L719.9,372.7 L720.0,370.5 L720.1,367.6 L720.3,367.2 L720.4,364.5 L720.5,361.0 L720.7,364.3 L720.8,360.8 L721.0,357.6 L721.1,356.9 L721.2,356.2 L721.4,355.9 L721.5,356.2 L721.6,354.5 L721.8,354.4 L721.9,354.8 L722.1,351.0 L722.2,352.9 L722.3,353.4 L722.5,352.4 L722.6,352.1 L722.7,351.4 L722.9,354.0 L723.0,350.4 L723.2,351.9 L723.3,351.2 L723.4,354.7 L723.6,354.5 L723.7,354.3 L723.8,355.4 L724.0,355.7 L724.1,360.4 L724.3,359.8 L724.4,360.8 L724.5,360.7 L724.7,362.4 L724.8,362.1 L724.9,367.3 L725.1,363.8 L725.2,367.7 L725.4,366.1 L725.5,369.5 L725.6,368.4 L725.8,368.2 L725.9,370.6 L726.0,371.1 L726.2,372.2 L726.3,371.5 L726.5,372.5 L726.6,373.0 L726.7,371.3 L726.9,372.1 L727.0,373.9 L727.1,370.6 L727.3,375.3 L727.4,373.2 L727.5,374.8 L727.7,374.5 L727.8,374.1 L728.0,375.1 L728.1,375.4 L728.2,375.5 L728.4,378.5 L728.5,379.0 L728.6,377.1 L728.8,379.4 L728.9,380.1 L729.1,381.1 L729.2,378.5 L729.3,379.6 L729.5,379.3 L729.6,382.6 L729.7,382.1 L729.9,383.9 L730.0,382.3 L730.2,381.9 L730.3,385.2 L730.4,384.8 L730.6,382.5 L730.7,382.7 L730.8,383.6 L731.0,385.2 L731.1,380.8 L731.3,382.1 L731.4,382.2 L731.5,380.6 L731.7,380.1 L731.8,378.4 L731.9,380.9 L732.1,379.2 L732.2,376.7 L732.4,375.0 L732.5,373.8 L732.6,374.4 L732.8,373.8 L732.9,370.5 L733.0,370.3 L733.2,369.0 L733.3,366.3 L733.5,367.0 L733.6,368.0 L733.7,364.6 L733.9,365.0 L734.0,361.6 L734.1,361.4 L734.3,362.7 L734.4,364.6 L734.6,364.6 L734.7,364.4 L734.8,366.0 L735.0,365.3 L735.1,367.6 L735.2,368.8 L735.4,368.7 L735.5,369.3 L735.6,370.3 L735.8,374.1 L735.9,373.5 L736.1,377.8 L736.2,378.0 L736.3,380.2 L736.5,377.8 L736.6,381.6 L736.7,381.4 L736.9,382.5 L737.0,382.1 L737.2,381.3 L737.3,381.4 L737.4,379.8 L737.6,377.4 L737.7,378.8 L737.8,377.7 L738.0,376.5 L738.1,377.3 L738.3,377.9 L738.4,376.5 L738.5,374.0 L738.7,376.6 L738.8,374.8 L738.9,372.3 L739.1,371.9 L739.2,372.3 L739.4,370.7 L739.5,370.9 L739.6,371.8 L739.8,369.9 L739.9,374.5 L740.0,376.4 L740.2,377.4 L740.3,381.4 L740.5,381.9 L740.6,382.1 L740.7,381.7 L740.9,382.4 L741.0,380.6 L741.1,381.6 L741.3,379.7 L741.4,382.6 L741.6,379.4 L741.7,380.3 L741.8,381.6 L742.0,378.3 L742.1,379.3 L742.2,381.4 L742.4,379.6 L742.5,378.1 L742.6,378.8 L742.8,377.2 L742.9,377.0 L743.1,376.9 L743.2,377.1 L743.3,375.8 L743.5,377.2 L743.6,376.4 L743.7,376.6 L743.9,379.6 L744.0,376.1 L744.2,375.6 L744.3,377.5 L744.4,377.7 L744.6,374.9 L744.7,379.2 L744.8,376.6 L745.0,374.4 L745.1,378.2 L745.3,376.4 L745.4,377.2 L745.5,375.1 L745.7,377.4 L745.8,376.7 L745.9,376.4 L746.1,378.6 L746.2,377.7 L746.4,377.4 L746.5,376.8 L746.6,377.9 L746.8,378.2 L746.9,379.2 L747.0,378.5 L747.2,377.2 L747.3,378.2 L747.5,379.3 L747.6,379.4 L747.7,375.4 L747.9,377.3 L748.0,377.9 L748.1,381.7 L748.3,378.1 L748.4,378.4 L748.6,377.1 L748.7,378.6 L748.8,379.2 L749.0,379.2 L749.1,380.6 L749.2,385.4 L749.4,383.9 L749.5,387.1 L749.6,389.6 L749.8,393.7 L749.9,394.3 L750.1,396.7 L750.2,403.3 L750.3,404.6 L750.5,407.4 L750.6,408.3 L750.7,410.4 L750.9,413.0 L751.0,414.6 L751.2,416.3 L751.3,413.3 L751.4,415.1 L751.6,418.3 L751.7,419.0 L751.8,416.1 L752.0,417.5 L752.1,417.1 L752.3,418.9 L752.4,421.4 L752.5,420.7 L752.7,424.1 L752.8,423.0 L752.9,422.8 L753.1,422.7 L753.2,424.7 L753.4,424.6 L753.5,424.5 L753.6,425.2 L753.8,426.2 L753.9,422.5 L754.0,419.9 L754.2,417.5 L754.3,413.2 L754.5,411.1 L754.6,411.4 L754.7,412.8 L754.9,413.0 L755.0,412.7 L755.1,413.2 L755.3,413.3 L755.4,413.9 L755.6,414.1 L755.7,414.8 L755.8,416.5 L756.0,415.5 L756.1,415.2 L756.2,414.6 L756.4,415.5 L756.5,416.4 L756.6,415.9 L756.8,417.7 L756.9,418.9 L757.1,416.9 L757.2,418.2 L757.3,417.3 L757.5,416.6 L757.6,418.9 L757.7,420.9 L757.9,419.2 L758.0,416.3 L758.2,418.8 L758.3,420.1 L758.4,419.6 L758.6,418.3 L758.7,418.5 L758.8,419.0 L759.0,417.7 L759.1,418.7 L759.3,419.7 L759.4,419.2 L759.5,418.1 L759.7,419.1 L759.8,419.2 L759.9,421.8 L760.1,420.9 L760.2,420.1 L760.4,421.4 L760.5,420.0 L760.6,420.7 L760.8,420.6 L760.9,422.0 L761.0,419.0 L761.2,422.1 L761.3,419.9 L761.5,420.8 L761.6,419.7 L761.7,416.0 L761.9,418.6 L762.0,416.4 L762.1,415.5 L762.3,415.9 L762.4,416.4 L762.6,414.1 L762.7,413.1 L762.8,411.4 L763.0,412.0 L763.1,411.0 L763.2,411.8 L763.4,410.8 L763.5,411.1 L763.6,411.4 L763.8,411.5 L763.9,411.8 L764.1,410.7 L764.2,412.6 L764.3,412.1 L764.5,411.3 L764.6,412.9 L764.7,411.7 L764.9,413.4 L765.0,411.8 L765.2,410.3 L765.3,410.3 L765.4,410.9 L765.6,411.1 L765.7,412.4 L765.8,408.6 L766.0,410.0 L766.1,409.3 L766.3,411.5 L766.4,410.7 L766.5,412.5 L766.7,409.4 L766.8,410.3 L766.9,408.2 L767.1,410.5 L767.2,407.3 L767.4,405.6 L767.5,407.3 L767.6,406.4 L767.8,404.5 L767.9,403.0 L768.0,402.9 L768.2,400.3 L768.3,399.0 L768.5,397.6 L768.6,397.3 L768.7,396.2 L768.9,395.0 L769.0,395.1 L769.1,397.7 L769.3,396.4 L769.4,396.8 L769.6,396.5 L769.7,395.1 L769.8,394.7 L770.0,393.8 L770.1,395.9 L770.2,395.2 L770.4,393.5 L770.5,393.4 L770.6,393.3 L770.8,392.7 L770.9,393.2 L771.1,392.0 L771.2,390.6 L771.3,390.4 L771.5,390.4 L771.6,390.5 L771.7,389.3 L771.9,391.6 L772.0,389.1 L772.2,387.3 L772.3,388.5 L772.4,385.9 L772.6,385.4 L772.7,386.6 L772.8,384.7 L773.0,384.2 L773.1,382.7 L773.3,381.9 L773.4,382.1 L773.5,382.5 L773.7,381.1 L773.8,380.3 L773.9,376.3 L774.1,371.4 L774.2,367.8 L774.4,364.1 L774.5,364.6 L774.6,365.1 L774.8,363.6 L774.9,363.7 L775.0,363.9 L775.2,362.4 L775.3,362.5 L775.5,361.5 L775.6,360.7 L775.7,361.5 L775.9,358.1 L776.0,360.8 L776.1,358.9 L776.3,359.7 L776.4,358.2 L776.6,359.2 L776.7,363.2 L776.8,362.6 L777.0,362.7 L777.1,363.5 L777.2,362.8 L777.4,366.7 L777.5,365.4 L777.6,363.3 L777.8,363.0 L777.9,361.8 L778.1,361.4 L778.2,361.2 L778.3,359.5 L778.5,360.3 L778.6,356.8 L778.7,358.4 L778.9,356.0 L779.0,352.9 L779.2,354.6 L779.3,353.4 L779.4,352.5 L779.6,347.7 L779.7,345.5 L779.8,343.0 L780.0,338.3 L780.1,334.5 L780.3,331.7 L780.4,332.9 L780.5,336.6 L780.7,335.7 L780.8,337.8 L780.9,341.7 L781.1,343.8 L781.2,342.2 L781.4,341.8 L781.5,338.4 L781.6,339.6 L781.8,336.8 L781.9,336.9 L782.0,335.9 L782.2,333.9 L782.3,335.5 L782.5,337.2 L782.6,341.2 L782.7,344.5 L782.9,345.2 L783.0,348.6 L783.1,351.0 L783.3,350.8 L783.4,349.5 L783.6,350.1 L783.7,352.2 L783.8,349.1 L784.0,351.8 L784.1,351.0 L784.2,352.8 L784.4,352.3 L784.5,354.3 L784.7,352.5 L784.8,348.8 L784.9,347.6 L785.1,349.0 L785.2,347.7 L785.3,346.2 L785.5,341.3 L785.6,341.6 L785.7,339.5 L785.9,337.8 L786.0,339.1 L786.2,339.9 L786.3,342.1 L786.4,341.8 L786.6,344.5 L786.7,344.0 L786.8,344.6 L787.0,345.4 L787.1,347.0 L787.3,347.6 L787.4,348.8 L787.5,348.0 L787.7,349.1 L787.8,347.1 L787.9,348.4 L788.1,349.9 L788.2,350.7 L788.4,351.3 L788.5,352.0 L788.6,351.7 L788.8,351.3 L788.9,351.5 L789.0,352.5 L789.2,351.0 L789.3,348.5 L789.5,351.0 L789.6,349.4 L789.7,345.4 L789.9,350.0 L790.0,347.7 L790.1,346.3 L790.3,346.3 L790.4,346.5 L790.6,346.4 L790.7,347.4 L790.8,346.9 L791.0,347.4 L791.1,346.8 L791.2,350.1 L791.4,349.1 L791.5,348.3 L791.7,349.7 L791.8,349.9 L791.9,348.2 L792.1,349.8 L792.2,348.5 L792.3,348.6 L792.5,349.7 L792.6,353.8 L792.7,358.1 L792.9,363.3 L793.0,363.6 L793.2,365.3 L793.3,363.9 L793.4,363.5 L793.6,364.8 L793.7,364.5 L793.8,363.8 L794.0,365.8 L794.1,364.3 L794.3,363.1 L794.4,366.0 L794.5,365.4 L794.7,366.0 L794.8,364.2 L794.9,365.8 L795.1,365.3 L795.2,367.3 L795.4,366.8 L795.5,366.9 L795.6,369.2 L795.8,365.7 L795.9,366.5 L796.0,369.7 L796.2,367.0 L796.3,368.2 L796.5,367.8 L796.6,368.5 L796.7,363.2 L796.9,360.5 L797.0,353.9 L797.1,354.3 L797.3,352.6 L797.4,355.2 L797.6,355.9 L797.7,356.5 L797.8,356.5 L798.0,354.9 L798.1,353.5 L798.2,355.2 L798.4,355.6 L798.5,353.5 L798.7,356.9 L798.8,357.3 L798.9,356.1 L799.1,356.9 L799.2,357.3 L799.3,360.1 L799.5,361.3 L799.6,360.6 L799.7,361.7 L799.9,364.5 L800.0,364.3 L800.2,365.7 L800.3,365.5 L800.4,367.2 L800.6,368.2 L800.7,369.5 L800.8,368.9 L801.0,369.6 L801.1,372.2 L801.3,372.8 L801.4,371.6 L801.5,373.6 L801.7,372.8 L801.8,372.2 L801.9,371.5 L802.1,373.8 L802.2,373.7 L802.4,373.5 L802.5,375.6 L802.6,374.1 L802.8,375.0 L802.9,374.0 L803.0,375.9 L803.2,377.0 L803.3,374.9 L803.5,374.8 L803.6,375.9 L803.7,374.4 L803.9,375.9 L804.0,376.5 L804.1,375.4 L804.3,376.1 L804.4,377.6 L804.6,376.2 L804.7,375.0 L804.8,373.7 L805.0,374.4 L805.1,373.5 L805.2,374.3 L805.4,372.8 L805.5,370.8 L805.7,373.2 L805.8,369.3 L805.9,372.4 L806.1,371.3 L806.2,370.3 L806.3,369.1 L806.5,367.2 L806.6,368.8 L806.7,368.8 L806.9,364.7 L807.0,363.5 L807.2,362.8 L807.3,359.5 L807.4,361.3 L807.6,360.3 L807.7,358.5 L807.8,358.2 L808.0,357.6 L808.1,355.4 L808.3,358.4 L808.4,357.0 L808.5,360.2 L808.7,354.9 L808.8,355.9 L808.9,354.1 L809.1,352.3 L809.2,354.5 L809.3,354.4 L809.5,354.3 L809.6,354.3 L809.8,353.8 L809.9,351.9 L810.0,352.3 L810.2,351.9 L810.3,351.8 L810.4,350.2 L810.6,350.3 L810.7,350.7 L810.9,349.4 L811.0,350.0 L811.1,350.8 L811.3,347.4 L811.4,348.2 L811.5,349.5 L811.7,346.8 L811.8,347.3 L811.9,349.1 L812.1,347.0 L812.2,345.9 L812.4,348.1 L812.5,348.2 L812.6,349.8 L812.8,351.0 L812.9,353.3 L813.0,351.2 L813.2,353.0 L813.3,354.2 L813.5,354.2 L813.6,355.3 L813.7,355.3 L813.9,357.3 L814.0,357.6 L814.1,357.4 L814.3,359.6 L814.4,357.4 L814.6,355.9 L814.7,354.8 L814.8,356.6 L815.0,356.0 L815.1,353.8 L815.2,355.4 L815.4,364.1 L815.5,371.3 L815.6,378.6 L815.8,388.9 L815.9,397.3 L816.1,395.6 L816.2,397.5 L816.3,396.1 L816.5,396.0 L816.6,393.6 L816.7,390.9 L816.9,387.2 L817.0,383.3 L817.2,384.3 L817.3,381.8 L817.4,378.0 L817.6,376.1 L817.7,376.9 L817.8,374.7 L818.0,374.2 L818.1,374.8 L818.2,373.4 L818.4,375.4 L818.5,372.3 L818.7,374.6 L818.8,373.2 L818.9,372.6 L819.1,372.0 L819.2,370.2 L819.3,370.6 L819.5,370.3 L819.6,370.2 L819.8,368.6 L819.9,366.8 L820.0,368.1 L820.2,367.1 L820.3,365.6 L820.4,366.2 L820.6,367.4 L820.7,362.5 L820.8,362.3 L821.0,366.5 L821.1,363.8 L821.3,362.7 L821.4,361.5 L821.5,361.3 L821.7,361.8 L821.8,362.2 L821.9,360.3 L822.1,358.7 L822.2,360.6 L822.4,359.9 L822.5,358.2 L822.6,357.6 L822.8,358.7 L822.9,355.7 L823.0,354.7 L823.2,352.6 L823.3,352.8 L823.4,351.8 L823.6,349.7 L823.7,353.0 L823.9,355.6 L824.0,358.4 L824.1,358.7 L824.3,357.5 L824.4,356.2 L824.5,355.2 L824.7,354.2 L824.8,356.6 L825.0,355.7 L825.1,357.6 L825.2,352.1 L825.4,354.7 L825.5,353.4 L825.6,352.3 L825.8,354.0 L825.9,351.5 L826.0,351.6 L826.2,353.2 L826.3,350.3 L826.5,348.8 L826.6,351.8 L826.7,348.3 L826.9,348.5 L827.0,348.3 L827.1,348.1 L827.3,348.5 L827.4,347.8 L827.6,350.0 L827.7,349.0 L827.8,350.9 L828.0,349.9 L828.1,352.0 L828.2,351.6 L828.4,349.8 L828.5,351.6 L828.6,352.7 L828.8,354.1 L828.9,353.2 L829.1,354.1 L829.2,353.0 L829.3,352.2 L829.5,352.9 L829.6,352.8 L829.7,353.5 L829.9,351.9 L830.0,354.0 L830.2,354.2 L830.3,352.6 L830.4,353.6 L830.6,354.0 L830.7,354.4 L830.8,354.1 L831.0,353.1 L831.1,353.4 L831.2,355.3 L831.4,353.4 L831.5,353.8 L831.7,355.2 L831.8,353.2 L831.9,354.4 L832.1,354.5 L832.2,353.3 L832.3,352.7 L832.5,355.1 L832.6,353.8 L832.8,355.4 L832.9,351.7 L833.0,355.0 L833.2,353.1 L833.3,355.3 L833.4,353.6 L833.6,352.0 L833.7,354.6 L833.9,355.8 L834.0,351.7 L834.1,348.9 L834.3,347.8 L834.4,346.8 L834.5,341.8 L834.7,342.5 L834.8,342.1 L834.9,343.7 L835.1,340.5 L835.2,343.1 L835.4,339.4 L835.5,341.0 L835.6,339.8 L835.8,338.2 L835.9,339.1 L836.0,340.5 L836.2,340.5 L836.3,336.8 L836.5,337.0 L836.6,338.4 L836.7,336.1 L836.9,336.2 L837.0,335.6 L837.1,338.6 L837.3,336.0 L837.4,334.3 L837.5,334.9 L837.7,334.8 L837.8,335.4 L838.0,340.0 L838.1,337.7 L838.2,338.1 L838.4,336.5 L838.5,341.3 L838.6,341.3 L838.8,341.6 L838.9,341.4 L839.1,343.7 L839.2,342.6 L839.3,345.6 L839.5,345.1 L839.6,346.8 L839.7,346.7 L839.9,347.6 L840.0,348.2 L840.1,349.0 L840.3,345.6 L840.4,346.2 L840.6,347.0 L840.7,345.8 L840.8,344.6 L841.0,346.6 L841.1,345.4 L841.2,344.4 L841.4,344.1 L841.5,344.8 L841.7,346.6 L841.8,342.5 L841.9,343.3 L842.1,343.4 L842.2,343.1 L842.3,343.3 L842.5,342.6 L842.6,343.3 L842.7,343.8 L842.9,343.4 L843.0,343.1 L843.2,343.0 L843.3,343.5 L843.4,341.3 L843.6,343.4 L843.7,341.0 L843.8,342.8 L844.0,341.1 L844.1,339.8 L844.3,341.1 L844.4,342.0 L844.5,341.0 L844.7,340.8 L844.8,342.8 L844.9,340.7 L845.1,340.6 L845.2,339.0 L845.3,338.9 L845.5,337.5 L845.6,336.0 L845.8,335.2 L845.9,334.3 L846.0,333.9 L846.2,334.1 L846.3,333.0 L846.4,332.2 L846.6,332.0 L846.7,331.6 L846.9,330.9 L847.0,332.2 L847.1,330.1 L847.3,329.2 L847.4,329.8 L847.5,328.2 L847.7,327.1 L847.8,327.1 L847.9,325.7 L848.1,321.4 L848.2,325.2 L848.4,320.7 L848.5,318.8 L848.6,320.2 L848.8,316.3 L848.9,313.6 L849.0,318.9 L849.2,315.1 L849.3,314.0 L849.5,314.2 L849.6,312.5 L849.7,315.0 L849.9,310.7 L850.0,310.6 L850.1,310.3 L850.3,309.5 L850.4,309.5 L850.6,307.3 L850.7,307.9 L850.8,306.3 L851.0,306.4 L851.1,305.1 L851.2,311.5 L851.4,312.6 L851.5,311.4 L851.6,309.8 L851.8,307.9 L851.9,308.5 L852.1,306.2 L852.2,306.5 L852.3,306.1 L852.5,306.9 L852.6,305.9 L852.7,305.4 L852.9,309.0 L853.0,310.5 L853.2,307.6 L853.3,307.1 L853.4,309.1 L853.6,305.4 L853.7,302.9 L853.8,301.8 L854.0,299.3 L854.1,294.8 L854.2,293.1 L854.4,293.2 L854.5,293.3 L854.7,291.4 L854.8,286.4 L854.9,286.1 L855.1,288.1 L855.2,287.2 L855.3,285.1 L855.5,285.3 L855.6,283.4 L855.8,280.3 L855.9,280.2 L856.0,279.7 L856.2,276.8 L856.3,272.4 L856.4,271.6 L856.6,268.0 L856.7,264.9 L856.8,262.3 L857.0,259.8 L857.1,256.2 L857.3,253.7 L857.4,257.6 L857.5,262.1 L857.7,263.1 L857.8,263.4 L857.9,260.1 L858.1,256.4 L858.2,259.6 L858.4,261.1 L858.5,263.3 L858.6,265.1 L858.8,267.9 L858.9,271.3 L859.0,272.7 L859.2,273.7 L859.3,275.5 L859.5,273.4 L859.6,272.8 L859.7,272.8 L859.9,273.6 L860.0,271.4 L860.1,269.1 L860.3,265.4 L860.4,264.1 L860.6,260.9 L860.7,258.7 L860.8,256.8 L861.0,253.2 L861.1,253.0 L861.2,250.4 L861.4,248.5 L861.5,245.2 L861.7,245.0 L861.8,241.2 L861.9,239.8 L862.1,240.6 L862.2,238.9 L862.3,237.0 L862.5,236.3 L862.6,234.7 L862.8,236.4 L862.9,234.6 L863.0,232.2 L863.2,229.9 L863.3,230.4 L863.4,232.6 L863.6,236.1 L863.7,237.9 L863.8,240.6 L864.0,243.1 L864.1,242.8 L864.3,246.9 L864.4,246.0 L864.5,243.7 L864.7,239.6 L864.8,239.1 L864.9,238.5 L865.1,238.0 L865.2,235.2 L865.4,232.3 L865.5,231.8 L865.6,229.5 L865.8,229.2 L865.9,227.2 L866.0,226.2 L866.2,227.4 L866.3,227.6 L866.5,227.5 L866.6,231.6 L866.7,231.0 L866.9,231.6 L867.0,233.5 L867.1,234.1 L867.3,233.8 L867.4,233.4 L867.6,235.9 L867.7,237.6 L867.8,236.1 L868.0,237.2 L868.1,232.0 L868.2,233.0 L868.4,232.0 L868.5,232.2 L868.7,229.8 L868.8,228.7 L868.9,229.5 L869.1,227.7 L869.2,226.8 L869.3,226.8 L869.5,226.1 L869.6,226.9 L869.8,223.8 L869.9,225.8 L870.0,226.7 L870.2,224.3 L870.3,223.7 L870.4,226.0 L870.6,227.8 L870.7,228.5 L870.8,229.2 L871.0,232.4 L871.1,232.6 L871.3,232.3 L871.4,234.6 L871.5,237.0 L871.7,238.2 L871.8,239.9 L871.9,241.2 L872.1,240.0 L872.2,237.8 L872.4,237.4 L872.5,238.8 L872.6,234.7 L872.8,234.4 L872.9,231.3 L873.0,230.8 L873.2,231.1 L873.3,229.8 L873.5,227.1 L873.6,230.5 L873.7,228.9 L873.9,233.0 L874.0,236.2 L874.1,240.2 L874.3,240.3 L874.4,245.3 L874.6,245.6 L874.7,249.6 L874.8,253.9 L875.0,256.3 L875.1,256.7 L875.2,260.3 L875.4,262.3 L875.5,262.9 L875.7,263.2 L875.8,264.6 L875.9,260.3 L876.1,256.8 L876.2,256.2 L876.3,255.9 L876.5,257.7 L876.6,258.5 L876.8,257.5 L876.9,258.8 L877.0,261.6 L877.2,261.6 L877.3,262.7 L877.4,263.8 L877.6,265.3 L877.7,267.1 L877.8,267.0 L878.0,267.2 L878.1,266.8 L878.3,261.5 L878.4,260.1 L878.5,259.9 L878.7,254.7 L878.8,254.2 L878.9,255.0 L879.1,260.1 L879.2,257.6 L879.4,260.7 L879.5,261.1 L879.6,266.8 L879.8,266.6 L879.9,269.1 L880.0,267.6 L880.2,266.9 L880.3,266.0 L880.5,264.0 L880.6,266.0 L880.7,264.7 L880.9,262.3 L881.0,264.4 L881.1,263.8 L881.3,264.3 L881.4,263.6 L881.6,264.1 L881.7,264.8 L881.8,266.1 L882.0,266.2 L882.1,265.0 L882.2,265.7 L882.4,266.9 L882.5,267.8 L882.7,267.8 L882.8,266.9 L882.9,270.3 L883.1,269.8 L883.2,270.1 L883.3,272.6 L883.5,272.2 L883.6,275.4 L883.8,275.0 L883.9,271.3 L884.0,269.7 L884.2,269.2 L884.3,264.0 L884.4,263.3 L884.6,259.7 L884.7,256.2 L884.9,256.3 L885.0,253.7 L885.1,251.4 L885.3,250.8 L885.4,251.2 L885.5,250.2 L885.7,250.9 L885.8,249.2 L885.9,249.7 L886.1,249.2 L886.2,252.3 L886.4,248.8 L886.5,246.3 L886.6,246.4 L886.8,247.3 L886.9,244.0 L887.0,242.9 L887.2,242.1 L887.3,241.2 L887.5,243.5 L887.6,240.2 L887.7,241.9 L887.9,238.7 L888.0,241.4 L888.1,240.2 L888.3,241.2 L888.4,240.6 L888.6,241.5 L888.7,238.7 L888.8,238.6 L889.0,237.6 L889.1,238.0 L889.2,239.4 L889.4,240.3 L889.5,238.9 L889.7,238.6 L889.8,238.5 L889.9,236.5 L890.1,236.5 L890.2,236.9 L890.3,236.3 L890.5,244.4 L890.6,244.8 L890.8,245.9 L890.9,246.1 L891.0,246.2 L891.2,246.6 L891.3,249.2 L891.4,250.8 L891.6,248.1 L891.7,250.3 L891.9,249.8 L892.0,253.7 L892.1,252.9 L892.3,253.1 L892.4,253.8 L892.5,255.4 L892.7,254.3 L892.8,252.8 L892.9,252.3 L893.1,251.6 L893.2,254.4 L893.4,253.3 L893.5,252.4 L893.6,247.7 L893.8,244.6 L893.9,243.0 L894.0,242.1 L894.2,237.2 L894.3,234.7 L894.5,233.0 L894.6,231.6 L894.7,232.0 L894.9,230.3 L895.0,228.9 L895.1,229.6 L895.3,230.3 L895.4,227.0 L895.6,226.0 L895.7,225.7 L895.8,224.8 L896.0,222.8 L896.1,223.6 L896.2,222.1 L896.4,221.1 L896.5,222.6 L896.7,222.7 L896.8,222.7 L896.9,226.0 L897.1,224.5 L897.2,226.3 L897.3,229.2 L897.5,227.5 L897.6,226.9 L897.8,224.8 L897.9,226.2 L898.0,225.3 L898.2,225.6 L898.3,223.0 L898.4,221.2 L898.6,221.3 L898.7,220.7 L898.9,220.6 L899.0,219.5 L899.1,220.5 L899.3,223.5 L899.4,221.8 L899.5,224.6 L899.7,226.6 L899.8,227.3 L899.9,228.6 L900.1,227.8 L900.2,228.7 L900.4,231.1 L900.5,233.2 L900.6,231.0 L900.8,231.6 L900.9,233.7 L901.0,235.3 L901.2,234.9 L901.3,235.3 L901.5,235.0 L901.6,233.8 L901.7,233.7 L901.9,234.8 L902.0,231.3 L902.1,230.8 L902.3,235.9 L902.4,236.5 L902.6,241.0 L902.7,242.7 L902.8,242.6 L903.0,243.1 L903.1,243.2 L903.2,241.4 L903.4,242.3 L903.5,243.0 L903.7,243.7 L903.8,244.5 L903.9,245.7 L904.1,244.0 L904.2,243.4 L904.3,243.3 L904.5,241.1 L904.6,241.9 L904.8,241.3 L904.9,241.1 L905.0,241.7 L905.2,238.8 L905.3,238.9 L905.4,238.8 L905.6,241.0 L905.7,243.1 L905.9,245.8 L906.0,243.3 L906.1,242.9 L906.3,245.1 L906.4,245.8 L906.5,246.1 L906.7,246.6 L906.8,248.0 L906.9,250.9 L907.1,250.2 L907.2,252.5 L907.4,252.4 L907.5,255.8 L907.6,255.3 L907.8,257.2 L907.9,256.5 L908.0,256.5 L908.2,259.1 L908.3,261.0 L908.5,257.9 L908.6,259.8 L908.7,259.3 L908.9,263.3 L909.0,261.3 L909.1,260.9 L909.3,264.1 L909.4,261.0 L909.6,262.7 L909.7,261.4 L909.8,261.1 L910.0,259.0 L910.1,258.2 L910.2,258.5 L910.4,259.4 L910.5,256.2 L910.7,256.8 L910.8,254.8 L910.9,254.4 L911.1,252.1 L911.2,251.9 L911.3,252.9 L911.5,251.2 L911.6,248.8 L911.8,250.7 L911.9,249.3 L912.0,249.4 L912.2,249.2 L912.3,249.7 L912.4,251.2 L912.6,253.9 L912.7,254.5 L912.9,253.3 L913.0,253.8 L913.1,251.9 L913.3,256.5 L913.4,254.8 L913.5,255.8 L913.7,259.3 L913.8,257.9 L913.9,256.9 L914.1,253.7 L914.2,252.5 L914.4,250.1 L914.5,247.9 L914.6,248.3 L914.8,250.7 L914.9,250.1 L915.0,252.3 L915.2,253.1 L915.3,252.8 L915.5,255.0 L915.6,254.9 L915.7,254.3 L915.9,257.0 L916.0,258.1 L916.1,258.8 L916.3,257.0 L916.4,257.3 L916.6,254.6 L916.7,256.3 L916.8,253.2 L917.0,253.5 L917.1,252.8 L917.2,248.8 L917.4,250.9 L917.5,246.9 L917.7,247.1 L917.8,245.2 L917.9,247.0 L918.1,243.5 L918.2,243.9 L918.3,243.1 L918.5,245.8 L918.6,246.6 L918.8,244.5 L918.9,248.0 L919.0,249.5 L919.2,250.6 L919.3,250.2 L919.4,251.2 L919.6,252.2 L919.7,251.3 L919.9,254.5 L920.0,254.5 L920.1,255.9 L920.3,254.3 L920.4,257.3 L920.5,255.2 L920.7,254.4 L920.8,258.2 L920.9,258.1 L921.1,258.2 L921.2,259.3 L921.4,256.8 L921.5,259.7 L921.6,257.1 L921.8,256.2 L921.9,259.9 L922.0,258.5 L922.2,260.6 L922.3,257.6 L922.5,259.5 L922.6,259.2 L922.7,259.0 L922.9,259.4 L923.0,259.3 L923.1,260.7 L923.3,260.8 L923.4,261.2 L923.6,264.1 L923.7,265.5 L923.8,269.2 L924.0,270.0 L924.1,274.6 L924.2,275.1 L924.4,276.8 L924.5,274.3 L924.7,276.1 L924.8,277.3 L924.9,275.2 L925.1,276.3 L925.2,276.7 L925.3,275.3 L925.5,273.3 L925.6,273.4 L925.8,273.6 L925.9,274.3 L926.0,274.1 L926.2,271.0 L926.3,271.9 L926.4,273.0 L926.6,274.0 L926.7,272.8 L926.9,268.0 L927.0,270.6 L927.1,272.1 L927.3,271.1 L927.4,271.0 L927.5,271.6 L927.7,272.0 L927.8,273.4 L927.9,272.1 L928.1,276.9 L928.2,277.4 L928.4,283.9 L928.5,285.7 L928.6,292.3 L928.8,294.0 L928.9,296.6 L929.0,298.3 L929.2,299.7 L929.3,304.5 L929.5,305.5 L929.6,304.6 L929.7,304.7 L929.9,305.8 L930.0,304.3 L930.1,305.7 L930.3,305.4 L930.4,304.3 L930.6,307.3 L930.7,304.1 L930.8,305.0 L931.0,305.3 L931.1,304.0 L931.2,302.4 L931.4,303.6 L931.5,301.5 L931.7,304.1 L931.8,304.2 L931.9,300.7 L932.1,301.9 L932.2,301.1 L932.3,302.9 L932.5,300.9 L932.6,301.3 L932.8,300.7 L932.9,301.3 L933.0,299.9 L933.2,297.2 L933.3,298.0 L933.4,297.1 L933.6,296.3 L933.7,291.9 L933.9,291.9 L934.0,292.7 L934.1,292.9 L934.3,292.7 L934.4,292.0 L934.5,292.8 L934.7,291.6 L934.8,291.8 L935.0,291.6 L935.1,292.0 L935.2,290.8 L935.4,290.6 L935.5,291.0 L935.6,290.2 L935.8,290.0 L935.9,289.7 L936.0,292.5 L936.2,290.5 L936.3,290.6 L936.5,288.7 L936.6,291.3 L936.7,290.1 L936.9,289.5 L937.0,289.4 L937.1,287.8 L937.3,288.8 L937.4,290.9 L937.6,290.9 L937.7,295.3 L937.8,297.3 L938.0,295.4 L938.1,298.4 L938.2,298.3 L938.4,298.7 L938.5,299.6 L938.7,299.6 L938.8,302.1 L938.9,300.0 L939.1,302.2 L939.2,300.9 L939.3,302.4 L939.5,305.2 L939.6,304.9 L939.8,302.6 L939.9,304.5 L940.0,305.3 L940.2,305.0 L940.3,306.2 L940.4,306.2 L940.6,304.8 L940.7,302.1 L940.9,300.1 L941.0,296.5 L941.1,296.2 L941.3,294.3 L941.4,293.6 L941.5,295.1 L941.7,296.7 L941.8,298.8 L942.0,301.4 L942.1,302.8 L942.2,304.6 L942.4,306.7 L942.5,307.3 L942.6,307.2 L942.8,307.7 L942.9,304.9 L943.0,306.0 L943.2,307.0 L943.3,308.5 L943.5,306.2 L943.6,306.4 L943.7,307.0 L943.9,306.9 L944.0,308.0 L944.1,304.6 L944.3,305.2 L944.4,302.0 L944.6,304.8 L944.7,304.8 L944.8,302.8 L945.0,304.1 L945.1,303.9 L945.2,304.4 L945.4,304.5 L945.5,301.9 L945.7,302.3 L945.8,301.3 L945.9,303.5 L946.1,302.9 L946.2,303.8 L946.3,301.5 L946.5,304.1 L946.6,301.7 L946.8,300.9 L946.9,300.4 L947.0,302.9 L947.2,301.7 L947.3,300.0 L947.4,301.8 L947.6,301.5 L947.7,301.7 L947.9,298.5 L948.0,297.6 L948.1,299.8 L948.3,299.7 L948.4,298.8 L948.5,295.2 L948.7,297.7 L948.8,301.5 L949.0,308.3 L949.1,314.7 L949.2,317.5 L949.4,318.4 L949.5,316.2 L949.6,315.5 L949.8,318.0 L949.9,318.5 L950.0,318.3 L950.2,320.0 L950.3,316.8 L950.5,319.1 L950.6,316.7 L950.7,319.9 L950.9,318.0 L951.0,319.1 L951.1,316.9 L951.3,317.8 L951.4,315.7 L951.6,316.2 L951.7,317.2 L951.8,314.8 L952.0,314.2 L952.1,317.0 L952.2,312.4 L952.4,313.5 L952.5,312.9 L952.7,315.5 L952.8,313.9 L952.9,313.1 L953.1,311.1 L953.2,313.7 L953.3,312.7 L953.5,313.6 L953.6,311.2 L953.8,310.2 L953.9,312.2 L954.0,309.9 L954.2,310.9 L954.3,309.9 L954.4,309.0 L954.6,310.3 L954.7,311.7 L954.9,313.0 L955.0,313.0 L955.1,313.0 L955.3,312.4 L955.4,312.9 L955.5,311.2 L955.7,313.1 L955.8,315.0 L956.0,312.3 L956.1,313.2 L956.2,314.6 L956.4,313.9 L956.5,314.2 L956.6,314.8 L956.8,313.2 L956.9,310.3 L957.0,311.7 L957.2,311.6 L957.3,309.2 L957.5,308.5 L957.6,307.4 L957.7,306.7 L957.9,305.2 L958.0,306.2 L958.1,305.7 L958.3,302.2 L958.4,303.0 L958.6,299.6 L958.7,298.7 L958.8,297.2 L959.0,294.9 L959.1,294.6 L959.2,293.1 L959.4,291.6 L959.5,291.7 L959.7,292.4 L959.8,293.0 L959.9,293.0 L960.1,292.5 L960.2,292.0 L960.3,291.6 L960.5,287.9 L960.6,290.4 L960.8,290.0 L960.9,291.7 L961.0,291.4 L961.2,290.7 L961.3,289.9 L961.4,291.1 L961.6,287.9 L961.7,290.2 L961.9,288.1 L962.0,291.8 L962.1,289.0 L962.3,288.4 L962.4,288.3 L962.5,287.7 L962.7,287.8 L962.8,288.0 L963.0,288.4 L963.1,291.4 L963.2,290.6 L963.4,293.1 L963.5,290.3 L963.6,291.2 L963.8,292.4 L963.9,293.8 L964.0,294.1 L964.2,291.9 L964.3,292.6 L964.5,295.3 L964.6,294.4 L964.7,298.3 L964.9,299.3 L965.0,298.2 L965.1,299.3 L965.3,299.5 L965.4,299.3 L965.6,296.6 L965.7,301.5 L965.8,301.3 L966.0,298.3 L966.1,295.1 L966.2,292.5 L966.4,288.4 L966.5,284.5 L966.7,285.0 L966.8,280.6 L966.9,280.2 L967.1,280.4 L967.2,279.5 L967.3,281.4 L967.5,281.4 L967.6,281.8 L967.8,278.2 L967.9,278.3 L968.0,278.2 L968.2,280.8 L968.3,278.2 L968.4,278.4 L968.6,278.9 L968.7,278.1 L968.9,275.9 L969.0,275.8 L969.1,276.2 L969.3,275.4 L969.4,276.4 L969.5,275.3 L969.7,275.1 L969.8,274.3 L970.0,274.7 L970.1,274.6 L970.2,274.3 L970.4,274.6 L970.5,273.6 L970.6,271.6 L970.8,274.2 L970.9,275.0 L971.0,273.4 L971.2,275.1 L971.3,279.1 L971.5,277.1 L971.6,277.6 L971.7,277.0 L971.9,278.3 L972.0,280.4 L972.1,279.1 L972.3,280.9 L972.4,280.1 L972.6,278.4 L972.7,277.7 L972.8,279.0 L973.0,277.8 L973.1,277.4 L973.2,276.4 L973.4,275.7 L973.5,275.6 L973.7,276.3 L973.8,277.8 L973.9,275.3 L974.1,275.3 L974.2,277.6 L974.3,276.6 L974.5,277.7 L974.6,277.8 L974.8,278.4 L974.9,280.2 L975.0,279.0 L975.2,278.8 L975.3,281.4 L975.4,278.5 L975.6,278.7 L975.7,279.4 L975.9,279.5 L976.0,281.3 L976.1,282.9 L976.3,282.9 L976.4,283.8 L976.5,284.2 L976.7,283.3 L976.8,283.7 L977.0,283.1 L977.1,286.3 L977.2,281.5 L977.4,281.8 L977.5,284.6 L977.6,284.0 L977.8,284.4 L977.9,284.8 L978.0,285.5 L978.2,285.6 L978.3,286.6 L978.5,285.7 L978.6,286.1 L978.7,285.9 L978.9,287.4 L979.0,286.6 L979.1,285.0 L979.3,283.5 L979.4,281.3 L979.6,281.7 L979.7,278.5 L979.8,276.4 L980.0,275.3 L980.1,274.9 L980.2,272.9 L980.4,273.4 L980.5,273.0 L980.7,271.8 L980.8,270.8 L980.9,272.7 L981.1,273.2 L981.2,271.9 L981.3,272.0 L981.5,273.2 L981.6,272.9 L981.8,272.1 L981.9,271.1 L982.0,273.2 L982.2,272.9 L982.3,271.1 L982.4,273.0 L982.6,271.3 L982.7,271.0 L982.9,271.4 L983.0,271.2 L983.1,272.8 L983.3,272.2 L983.4,273.0 L983.5,272.7 L983.7,274.5 L983.8,272.7 L984.0,276.4 L984.1,275.1 L984.2,275.4 L984.4,274.8 L984.5,276.3 L984.6,277.1 L984.8,275.8 L984.9,277.1 L985.1,275.7 L985.2,274.6 L985.3,277.1 L985.5,276.2 L985.6,277.8 L985.7,275.7 L985.9,275.4 L986.0,276.9 L986.1,278.3 L986.3,276.5 L986.4,275.7 L986.6,275.8 L986.7,276.2 L986.8,279.3 L987.0,278.0 L987.1,275.7 L987.2,278.8 L987.4,276.1 L987.5,275.3 L987.7,277.5 L987.8,280.0 L987.9,284.2 L988.1,283.0 L988.2,284.8 L988.3,285.9 L988.5,284.7 L988.6,284.9 L988.8,284.8 L988.9,284.0 L989.0,285.1 L989.2,284.8 L989.3,284.6 L989.4,285.2 L989.6,283.1 L989.7,284.8 L989.9,285.3 L990.0,285.8 L990.1,286.3 L990.3,284.2 L990.4,285.6 L990.5,287.1 L990.7,286.6 L990.8,286.2 L991.0,286.7 L991.1,285.0 L991.2,286.3 L991.4,287.3 L991.5,285.0 L991.6,285.1 L991.8,286.3 L991.9,284.5 L992.1,284.3 L992.2,283.2 L992.3,284.0 L992.5,282.8 L992.6,284.7 L992.7,283.6 L992.9,281.1 L993.0,280.5 L993.1,281.3 L993.3,281.7 L993.4,279.4 L993.6,282.7 L993.7,280.8 L993.8,278.8 L994.0,279.2 L994.1,278.6 L994.2,280.7 L994.4,281.8 L994.5,278.1 L994.7,279.7 L994.8,281.1 L994.9,280.1 L995.1,279.3 L995.2,283.4 L995.3,279.3 L995.5,279.9 L995.6,283.3 L995.8,280.1 L995.9,281.1 L996.0,281.5 L996.2,276.5 L996.3,275.7 L996.4,271.9 L996.6,273.6 L996.7,271.2 L996.9,268.3 L997.0,268.6 L997.1,266.2 L997.3,266.7 L997.4,266.0 L997.5,265.3 L997.7,266.1 L997.8,264.0 L998.0,263.6 L998.1,263.8 L998.2,261.6 L998.4,263.6 L998.5,261.3 L998.6,263.1 L998.8,261.3 L998.9,264.1 L999.1,261.3 L999.2,261.4 L999.3,260.8 L999.5,261.0 L999.6,260.8 L999.7,260.1 L999.9,260.2 L1000.0,261.5 L1000.1,258.7 L1000.3,258.8 L1000.4,258.3 L1000.6,257.7 L1000.7,257.8 L1000.8,256.2 L1001.0,254.7 L1001.1,255.3 L1001.2,255.1 L1001.4,252.5 L1001.5,252.4 L1001.7,251.9 L1001.8,251.2 L1001.9,252.4 L1002.1,251.6 L1002.2,249.7 L1002.3,251.1 L1002.5,250.1 L1002.6,249.0 L1002.8,248.5 L1002.9,248.4 L1003.0,248.8 L1003.2,247.5 L1003.3,248.9 L1003.4,248.0 L1003.6,247.7 L1003.7,248.3 L1003.9,248.3 L1004.0,250.6 L1004.1,250.9 L1004.3,250.2 L1004.4,249.0 L1004.5,248.0 L1004.7,251.2 L1004.8,249.6 L1005.0,251.0 L1005.1,251.0 L1005.2,250.6 L1005.4,249.5 L1005.5,250.2 L1005.6,249.2 L1005.8,251.8 L1005.9,249.8 L1006.1,249.8 L1006.2,250.9 L1006.3,250.6 L1006.5,251.2 L1006.6,251.2 L1006.7,251.2 L1006.9,249.7 L1007.0,249.3 L1007.1,244.6 L1007.3,247.8 L1007.4,244.7 L1007.6,245.7 L1007.7,244.9 L1007.8,244.6 L1008.0,244.7 L1008.1,247.4 L1008.2,246.4 L1008.4,247.9 L1008.5,251.1 L1008.7,249.6 L1008.8,250.5 L1008.9,251.6 L1009.1,251.2 L1009.2,254.5 L1009.3,254.3 L1009.5,255.9 L1009.6,254.4 L1009.7,255.8 L1009.9,252.8 L1010.0,255.3 L1010.2,254.6 L1010.3,252.0 L1010.4,253.3 L1010.6,251.6 L1010.7,252.8 L1010.8,250.3 L1011.0,251.1 L1011.1,248.9 L1011.3,250.5 L1011.4,247.7 L1011.5,248.0 L1011.7,247.0 L1011.8,246.6 L1011.9,245.1 L1012.1,243.4 L1012.2,243.5 L1012.3,243.5 L1012.5,239.0 L1012.6,237.5 L1012.8,237.6 L1012.9,236.2 L1013.0,234.3 L1013.2,236.1 L1013.3,233.8 L1013.4,232.7 L1013.6,232.3 L1013.7,229.8 L1013.9,229.5 L1014.0,229.3 L1014.1,228.6 L1014.3,225.6 L1014.4,226.4 L1014.5,224.7 L1014.7,222.9 L1014.8,221.8 L1015.0,223.3 L1015.1,221.2 L1015.2,218.7 L1015.4,218.2 L1015.5,217.3 L1015.6,216.3 L1015.8,215.8 L1015.9,215.0 L1016.0,216.1 L1016.2,215.4 L1016.3,213.7 L1016.5,214.1 L1016.6,216.5 L1016.7,216.6 L1016.9,221.5 L1017.0,220.8 L1017.1,223.6 L1017.3,225.3 L1017.4,226.6 L1017.6,222.2 L1017.7,222.0 L1017.8,221.4 L1018.0,221.7 L1018.1,220.0 L1018.2,216.8 L1018.4,217.5 L1018.5,218.6 L1018.6,221.8 L1018.8,219.0 L1018.9,219.5 L1019.1,218.4 L1019.2,218.9 L1019.3,219.6 L1019.5,219.7 L1019.6,217.6 L1019.7,220.6 L1019.9,216.9 L1020.0,219.9 L1020.2,220.7 L1020.3,218.6 L1020.4,219.0 L1020.6,219.8 L1020.7,222.3 L1020.8,221.5 L1021.0,225.7 L1021.1,225.9 L1021.2,226.1 L1021.4,223.6 L1021.5,224.0 L1021.7,224.1 L1021.8,220.8 L1021.9,220.2 L1022.1,220.2 L1022.2,222.3 L1022.3,225.4 L1022.5,224.7 L1022.6,224.9 L1022.8,225.5 L1022.9,225.3 L1023.0,228.7 L1023.2,229.5 L1023.3,229.3 L1023.4,228.1 L1023.6,225.9 L1023.7,227.7 L1023.8,224.3 L1024.0,228.3 L1024.1,223.5 L1024.3,224.5 L1024.4,222.4 L1024.5,221.4 L1024.7,222.9 L1024.8,220.9 L1024.9,219.8 L1025.1,218.7 L1025.2,219.7 L1025.4,219.0 L1025.5,219.4 L1025.6,213.5 L1025.8,215.7 L1025.9,216.0 L1026.0,216.0 L1026.2,217.5 L1026.3,214.7 L1026.4,216.4 L1026.6,214.2 L1026.7,214.9 L1026.9,215.8 L1027.0,215.0 L1027.1,217.2 L1027.3,216.3 L1027.4,216.6 L1027.5,217.4 L1027.7,215.9 L1027.8,216.2 L1028.0,216.0 L1028.1,214.9 L1028.2,221.0 L1028.4,218.5 L1028.5,219.4 L1028.6,219.5 L1028.8,219.0 L1028.9,219.7 L1029.0,220.7 L1029.2,221.8 L1029.3,221.3 L1029.5,222.1 L1029.6,225.2 L1029.7,223.9 L1029.9,225.8 L1030.0,226.2 L1030.1,225.2 L1030.3,225.9 L1030.4,226.5 L1030.6,227.2 L1030.7,228.6 L1030.8,228.2 L1031.0,229.4 L1031.1,228.3 L1031.2,228.3 L1031.4,227.4 L1031.5,228.4 L1031.7,231.1 L1031.8,231.1 L1031.9,232.0 L1032.1,231.3 L1032.2,230.2 L1032.3,227.5 L1032.5,228.2 L1032.6,230.8 L1032.7,228.9 L1032.9,228.1 L1033.0,225.3 L1033.2,225.1 L1033.3,224.0 L1033.4,221.5 L1033.6,223.7 L1033.7,222.9 L1033.8,218.9 L1034.0,220.0 L1034.1,220.5 L1034.3,218.8 L1034.4,221.3 L1034.5,220.9 L1034.7,222.2 L1034.8,219.5 L1034.9,219.7 L1035.1,218.7 L1035.2,220.2 L1035.3,220.2 L1035.5,223.1 L1035.6,225.2 L1035.8,224.2 L1035.9,230.5 L1036.0,230.3 L1036.2,232.6 L1036.3,234.7 L1036.4,230.9 L1036.6,229.1 L1036.7,225.6 L1036.9,224.9 L1037.0,224.3 L1037.1,225.3 L1037.3,225.5 L1037.4,225.0 L1037.5,225.7 L1037.7,224.7 L1037.8,224.6 L1037.9,223.9 L1038.1,222.4 L1038.2,222.3 L1038.4,224.2 L1038.5,222.8 L1038.6,223.0 L1038.8,222.3 L1038.9,223.0 L1039.0,222.8 L1039.2,223.5 L1039.3,225.4 L1039.5,226.7 L1039.6,225.8 L1039.7,226.3 L1039.9,228.0 L1040.0,229.3 L1040.1,230.5 L1040.3,232.3 L1040.4,234.8 L1040.5,233.0 L1040.7,234.8 L1040.8,233.9 L1041.0,234.1 L1041.1,234.0 L1041.2,230.7 L1041.4,233.6 L1041.5,228.9 L1041.6,229.5 L1041.8,226.9 L1041.9,229.8 L1042.1,228.4 L1042.2,228.3 L1042.3,226.9 L1042.5,226.7 L1042.6,226.6 L1042.7,223.9 L1042.9,225.4 L1043.0,224.4 L1043.1,222.5 L1043.3,223.2 L1043.4,222.4 L1043.6,221.3 L1043.7,221.3 L1043.8,222.6 L1044.0,224.1 L1044.1,223.2 L1044.2,223.8 L1044.4,222.0 L1044.5,225.7 L1044.7,223.8 L1044.8,226.3 L1044.9,226.2 L1045.1,226.6 L1045.2,226.4 L1045.3,227.2 L1045.5,225.5 L1045.6,223.8 L1045.7,225.9 L1045.9,223.0 L1046.0,222.7 L1046.2,222.2 L1046.3,223.4 L1046.4,220.8 L1046.6,221.3 L1046.7,220.1 L1046.8,220.1 L1047.0,218.4 L1047.1,217.2 L1047.3,216.5 L1047.4,217.4 L1047.5,215.4 L1047.7,214.2 L1047.8,216.2 L1047.9,214.5 L1048.1,213.6 L1048.2,217.6 L1048.3,216.2 L1048.5,217.0 L1048.6,216.7 L1048.8,219.2 L1048.9,215.2 L1049.0,211.8 L1049.2,210.7 L1049.3,209.3 L1049.4,208.1 L1049.6,204.1 L1049.7,203.5 L1049.9,201.5 L1050.0,201.6 L1050.1,199.3 L1050.3,200.0 L1050.4,198.9 L1050.5,198.1 L1050.7,194.9 L1050.8,194.3 L1051.0,195.3 L1051.1,196.2 L1051.2,193.6 L1051.4,194.5 L1051.5,196.0 L1051.6,196.9 L1051.8,198.5 L1051.9,197.5 L1052.0,198.1 L1052.2,196.3 L1052.3,196.0 L1052.5,196.3 L1052.6,196.6 L1052.7,196.3 L1052.9,194.5 L1053.0,194.9 L1053.1,195.7 L1053.3,194.1 L1053.4,194.3 L1053.6,194.5 L1053.7,191.7 L1053.8,191.9 L1054.0,191.4 L1054.1,189.9 L1054.2,192.1 L1054.4,190.0 L1054.5,189.0 L1054.6,188.9 L1054.8,189.2 L1054.9,192.7 L1055.1,191.9 L1055.2,193.8 L1055.3,193.7 L1055.5,196.6 L1055.6,195.5 L1055.7,196.4 L1055.9,194.7 L1056.0,197.4 L1056.2,198.1 L1056.3,198.3 L1056.4,198.1 L1056.6,198.2 L1056.7,196.2 L1056.8,197.4 L1057.0,194.4 L1057.1,192.8 L1057.2,191.2 L1057.4,191.4 L1057.5,192.6 L1057.7,191.3 L1057.8,194.4 L1057.9,194.6 L1058.1,197.4 L1058.2,196.8 L1058.3,196.7 L1058.5,196.7 L1058.6,193.1 L1058.8,193.2 L1058.9,194.1 L1059.0,191.3 L1059.2,190.3 L1059.3,190.2 L1059.4,188.9 L1059.6,189.3 L1059.7,190.1 L1059.9,190.8 L1060.0,192.7 L1060.1,191.2 L1060.3,191.5 L1060.4,190.2 L1060.5,190.1 L1060.7,192.1 L1060.8,192.6 L1061.0,192.1 L1061.1,190.9 L1061.2,192.0 L1061.4,192.2 L1061.5,193.8 L1061.6,193.2 L1061.8,194.4 L1061.9,194.2 L1062.1,195.3 L1062.2,195.8 L1062.3,197.0 L1062.5,195.3 L1062.6,194.6 L1062.7,196.7 L1062.9,195.6 L1063.0,194.5 L1063.2,196.0 L1063.3,196.3 L1063.4,193.3 L1063.6,194.7 L1063.7,195.6 L1063.8,195.8 L1064.0,199.2 L1064.1,197.6 L1064.2,202.5 L1064.4,202.5 L1064.5,202.4 L1064.7,204.5 L1064.8,199.2 L1064.9,196.9 L1065.1,199.5 L1065.2,200.7 L1065.3,201.3 L1065.5,205.2 L1065.6,203.9 L1065.8,205.5 L1065.9,208.2 L1066.0,209.2 L1066.2,208.1 L1066.3,207.3 L1066.4,207.3 L1066.6,206.5 L1066.7,204.9 L1066.9,206.6 L1067.0,205.4 L1067.1,205.6 L1067.3,203.4 L1067.4,204.5 L1067.5,203.0 L1067.7,202.8 L1067.8,202.4 L1068.0,201.9 L1068.1,200.6 L1068.2,203.3 L1068.4,202.2 L1068.5,203.5 L1068.6,203.6 L1068.8,205.8 L1068.9,205.2 L1069.1,206.0 L1069.2,208.2 L1069.3,207.8 L1069.5,208.9 L1069.6,209.4 L1069.7,208.5 L1069.9,211.4 L1070.0,211.2 L1070.2,212.1 L1070.3,211.2 L1070.4,208.8 L1070.6,208.0 L1070.7,206.3 L1070.8,204.7 L1071.0,202.4 L1071.1,203.0 L1071.2,201.9 L1071.4,202.2 L1071.5,199.8 L1071.7,198.0 L1071.8,197.0 L1071.9,197.5 L1072.1,199.3 L1072.2,195.7 L1072.3,194.5 L1072.5,194.9 L1072.6,197.1 L1072.8,195.3 L1072.9,193.9 L1073.0,193.7 L1073.2,194.6 L1073.3,194.3 L1073.4,191.8 L1073.6,193.9 L1073.7,190.4 L1073.9,191.6 L1074.0,190.8 L1074.1,190.7 L1074.3,191.8 L1074.4,190.6 L1074.5,188.8 L1074.7,190.8 L1074.8,186.5 L1075.0,190.0 L1075.1,189.4 L1075.2,187.6 L1075.4,186.8 L1075.5,186.1 L1075.6,186.9 L1075.8,186.4 L1075.9,186.0 L1076.1,185.4 L1076.2,186.5 L1076.3,189.2 L1076.5,185.7 L1076.6,187.0 L1076.7,187.5 L1076.9,188.9 L1077.0,188.3 L1077.2,189.1 L1077.3,189.6 L1077.4,188.8 L1077.6,192.4 L1077.7,190.7 L1077.8,192.6 L1078.0,191.9 L1078.1,191.1 L1078.2,188.0 L1078.4,189.7 L1078.5,187.5 L1078.7,186.3 L1078.8,187.4 L1078.9,186.2 L1079.1,188.9 L1079.2,190.1 L1079.3,188.2 L1079.5,189.6 L1079.6,190.1 L1079.8,189.0 L1079.9,191.7 L1080.0,191.6 L1080.2,191.6 L1080.3,192.2 L1080.4,191.4 L1080.6,192.1 L1080.7,190.0 L1080.9,188.4 L1081.0,190.9 L1081.1,188.1 L1081.3,192.1 L1081.4,187.9 L1081.5,189.1 L1081.7,188.9 L1081.8,187.7 L1082.0,187.5 L1082.1,187.2 L1082.2,187.3 L1082.4,185.6 L1082.5,183.1 L1082.6,182.6 L1082.8,183.6 L1082.9,183.2 L1083.1,182.7 L1083.2,182.6 L1083.3,180.6 L1083.5,178.8 L1083.6,180.1 L1083.7,180.9 L1083.9,181.7 L1084.0,182.4 L1084.2,179.9 L1084.3,180.6 L1084.4,182.6 L1084.6,180.6 L1084.7,183.1 L1084.8,181.9 L1085.0,181.6 L1085.1,183.7 L1085.3,183.5 L1085.4,182.9 L1085.5,183.3 L1085.7,183.0 L1085.8,185.5 L1085.9,184.9 L1086.1,182.6 L1086.2,182.3 L1086.3,183.2 L1086.5,182.1 L1086.6,182.9 L1086.8,181.7 L1086.9,182.4 L1087.0,180.3 L1087.2,179.6 L1087.3,177.8 L1087.4,178.7 L1087.6,178.3 L1087.7,179.1 L1087.9,181.0 L1088.0,181.5 L1088.1,182.3 L1088.3,182.3 L1088.4,185.3 L1088.5,183.0 L1088.7,186.2 L1088.8,185.7 L1089.0,185.8 L1089.1,186.4 L1089.2,187.2 L1089.4,185.0 L1089.5,187.1 L1089.6,185.4 L1089.8,186.1 L1089.9,187.5 L1090.1,187.8 L1090.2,186.5 L1090.3,185.2 L1090.5,186.7 L1090.6,186.0 L1090.7,186.4 L1090.9,185.4 L1091.0,185.6 L1091.2,184.8 L1091.3,183.5 L1091.4,182.8 L1091.6,183.9 L1091.7,183.5 L1091.8,182.5 L1092.0,183.4 L1092.1,184.0 L1092.3,181.3 L1092.4,182.2 L1092.5,184.0 L1092.7,182.6 L1092.8,185.4 L1092.9,183.0 L1093.1,186.8 L1093.2,185.4 L1093.3,187.0 L1093.5,184.6 L1093.6,186.4 L1093.8,182.9 L1093.9,184.6 L1094.0,184.8 L1094.2,181.3 L1094.3,180.5 L1094.4,180.6 L1094.6,182.4 L1094.7,178.8 L1094.9,177.9 L1095.0,179.9 L1095.1,181.7 L1095.3,183.2 L1095.4,184.6 L1095.5,187.2 L1095.7,186.4 L1095.8,184.3 L1096.0,185.2 L1096.1,187.9 L1096.2,188.8 L1096.4,188.6 L1096.5,187.9 L1096.6,186.8 L1096.8,186.9 L1096.9,187.4 L1097.1,188.0 L1097.2,186.0 L1097.3,185.4 L1097.5,183.3 L1097.6,183.0 L1097.7,183.7 L1097.9,184.4 L1098.0,185.0 L1098.2,187.7 L1098.3,187.5 L1098.4,186.4" fill="none" stroke="#111" stroke-width="1.15" stroke-linejoin="round"/>
<line x1="689.5" x2="689.5" y1="165" y2="438" stroke="#6559d8" stroke-width="2"/>
<text x="675.5" y="210.5" text-anchor="end" class="yl">1T</text><text x="675.5" y="268.5" text-anchor="end" class="yl">750B</text><text x="675.5" y="326.5" text-anchor="end" class="yl">500B</text><text x="675.5" y="384.5" text-anchor="end" class="yl">250B</text><text x="675.5" y="442.5" text-anchor="end" class="yl">0</text>
<rect x="653" y="166" width="37.5" height="25" fill="#4a3bdc"/>
<text x="659" y="183.5" class="yl lb">1.1T</text>
<line x1="1107.3" x2="1107.3" y1="165" y2="438" stroke="#111" stroke-width="2.2"/>
<text x="1122" y="198" class="yl">$100K</text><text x="1122" y="260" class="yl">$40K</text><text x="1122" y="307" class="yl">$20K</text><text x="1122" y="355" class="yl">$10K</text><text x="1122" y="416" class="yl">$4K</text>
<rect x="1106.6" y="174" width="48.1" height="24.2" fill="#111"/>
<text x="1112.7" y="191" class="yl lb">$110K</text>
</svg>
</div>
</body></html>
